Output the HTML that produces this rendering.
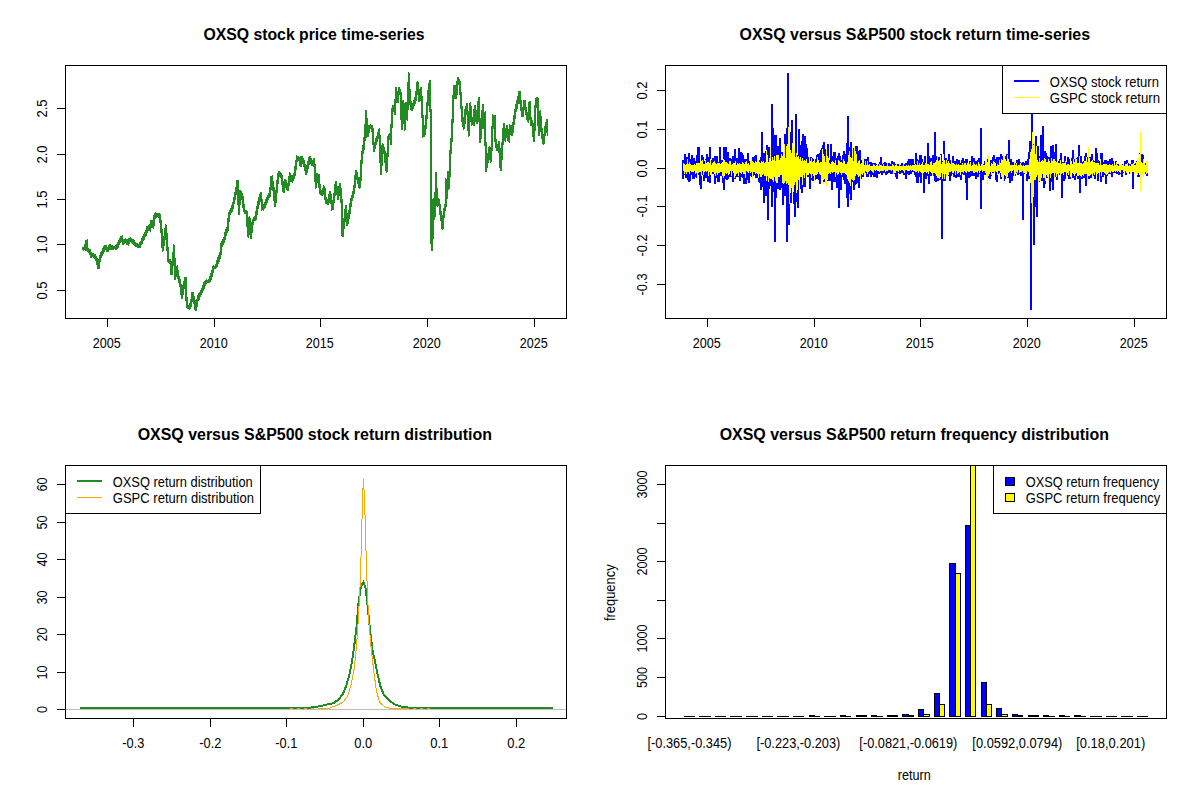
<!DOCTYPE html><html><head><meta charset="utf-8"><title>OXSQ</title><style>html,body{margin:0;padding:0;background:#fff}svg{display:block}</style></head><body>
<svg width="1200" height="800" viewBox="0 0 1200 800" shape-rendering="crispEdges" font-family='"Liberation Sans", sans-serif' fill="#000">
<rect width="1200" height="800" fill="#fff"/>
<text x="314" y="40" font-size="16" text-anchor="middle" textLength="221.2" lengthAdjust="spacingAndGlyphs" font-weight="bold">OXSQ stock price time-series</text>
<g fill="#228B22">
<rect x="82" y="247" width="1" height="3"/>
<rect x="83" y="247" width="1" height="4"/>
<rect x="84" y="244" width="1" height="6"/>
<rect x="85" y="240" width="1" height="11"/>
<rect x="86" y="240" width="1" height="11"/>
<rect x="87" y="239" width="1" height="13"/>
<rect x="88" y="248" width="1" height="5"/>
<rect x="89" y="249" width="1" height="6"/>
<rect x="90" y="249" width="1" height="9"/>
<rect x="91" y="252" width="1" height="6"/>
<rect x="92" y="253" width="1" height="4"/>
<rect x="93" y="253" width="1" height="5"/>
<rect x="94" y="254" width="1" height="5"/>
<rect x="95" y="254" width="1" height="7"/>
<rect x="96" y="256" width="1" height="9"/>
<rect x="97" y="258" width="1" height="11"/>
<rect x="98" y="259" width="1" height="10"/>
<rect x="99" y="255" width="1" height="14"/>
<rect x="100" y="252" width="1" height="10"/>
<rect x="101" y="251" width="1" height="7"/>
<rect x="102" y="248" width="1" height="8"/>
<rect x="103" y="246" width="1" height="8"/>
<rect x="104" y="245" width="1" height="7"/>
<rect x="105" y="245" width="1" height="5"/>
<rect x="106" y="245" width="1" height="7"/>
<rect x="107" y="247" width="1" height="5"/>
<rect x="108" y="245" width="1" height="7"/>
<rect x="109" y="244" width="1" height="6"/>
<rect x="110" y="244" width="1" height="6"/>
<rect x="111" y="245" width="1" height="5"/>
<rect x="112" y="245" width="1" height="5"/>
<rect x="113" y="246" width="1" height="4"/>
<rect x="114" y="246" width="1" height="3"/>
<rect x="115" y="245" width="1" height="5"/>
<rect x="116" y="244" width="1" height="6"/>
<rect x="117" y="242" width="1" height="7"/>
<rect x="118" y="240" width="1" height="8"/>
<rect x="119" y="238" width="1" height="7"/>
<rect x="120" y="236" width="1" height="7"/>
<rect x="121" y="236" width="1" height="6"/>
<rect x="122" y="235" width="1" height="10"/>
<rect x="123" y="239" width="1" height="6"/>
<rect x="124" y="239" width="1" height="5"/>
<rect x="125" y="238" width="1" height="5"/>
<rect x="126" y="239" width="1" height="6"/>
<rect x="127" y="239" width="1" height="6"/>
<rect x="128" y="238" width="1" height="8"/>
<rect x="129" y="238" width="1" height="6"/>
<rect x="130" y="237" width="1" height="5"/>
<rect x="131" y="238" width="1" height="5"/>
<rect x="132" y="239" width="1" height="5"/>
<rect x="133" y="239" width="1" height="6"/>
<rect x="134" y="240" width="1" height="6"/>
<rect x="135" y="242" width="1" height="5"/>
<rect x="136" y="243" width="1" height="4"/>
<rect x="137" y="243" width="1" height="5"/>
<rect x="138" y="244" width="1" height="4"/>
<rect x="139" y="242" width="1" height="6"/>
<rect x="140" y="241" width="1" height="7"/>
<rect x="141" y="238" width="1" height="7"/>
<rect x="142" y="236" width="1" height="8"/>
<rect x="143" y="234" width="1" height="7"/>
<rect x="144" y="232" width="1" height="8"/>
<rect x="145" y="230" width="1" height="7"/>
<rect x="146" y="226" width="1" height="10"/>
<rect x="147" y="226" width="1" height="7"/>
<rect x="148" y="225" width="1" height="6"/>
<rect x="149" y="224" width="1" height="7"/>
<rect x="150" y="220" width="1" height="12"/>
<rect x="151" y="220" width="1" height="8"/>
<rect x="152" y="220" width="1" height="8"/>
<rect x="153" y="215" width="1" height="14"/>
<rect x="154" y="213" width="1" height="13"/>
<rect x="155" y="212" width="1" height="7"/>
<rect x="156" y="213" width="1" height="5"/>
<rect x="157" y="213" width="1" height="4"/>
<rect x="158" y="213" width="1" height="5"/>
<rect x="159" y="213" width="1" height="10"/>
<rect x="160" y="214" width="1" height="19"/>
<rect x="161" y="220" width="1" height="28"/>
<rect x="162" y="229" width="1" height="23"/>
<rect x="163" y="236" width="1" height="15"/>
<rect x="164" y="228" width="1" height="18"/>
<rect x="165" y="224" width="1" height="16"/>
<rect x="166" y="225" width="1" height="26"/>
<rect x="167" y="233" width="1" height="29"/>
<rect x="168" y="247" width="1" height="16"/>
<rect x="169" y="259" width="1" height="5"/>
<rect x="170" y="259" width="1" height="16"/>
<rect x="171" y="261" width="1" height="14"/>
<rect x="172" y="252" width="1" height="23"/>
<rect x="173" y="244" width="1" height="22"/>
<rect x="174" y="245" width="1" height="35"/>
<rect x="175" y="258" width="1" height="22"/>
<rect x="176" y="266" width="1" height="11"/>
<rect x="177" y="265" width="1" height="14"/>
<rect x="178" y="270" width="1" height="13"/>
<rect x="179" y="276" width="1" height="11"/>
<rect x="180" y="279" width="1" height="16"/>
<rect x="181" y="284" width="1" height="15"/>
<rect x="182" y="285" width="1" height="14"/>
<rect x="183" y="281" width="1" height="14"/>
<rect x="184" y="277" width="1" height="12"/>
<rect x="185" y="277" width="1" height="24"/>
<rect x="186" y="277" width="1" height="31"/>
<rect x="187" y="297" width="1" height="12"/>
<rect x="188" y="305" width="1" height="4"/>
<rect x="189" y="303" width="1" height="7"/>
<rect x="190" y="299" width="1" height="10"/>
<rect x="191" y="292" width="1" height="15"/>
<rect x="192" y="292" width="1" height="10"/>
<rect x="193" y="292" width="1" height="12"/>
<rect x="194" y="296" width="1" height="14"/>
<rect x="195" y="300" width="1" height="11"/>
<rect x="196" y="299" width="1" height="12"/>
<rect x="197" y="295" width="1" height="12"/>
<rect x="198" y="293" width="1" height="8"/>
<rect x="199" y="292" width="1" height="8"/>
<rect x="200" y="290" width="1" height="7"/>
<rect x="201" y="288" width="1" height="7"/>
<rect x="202" y="285" width="1" height="8"/>
<rect x="203" y="282" width="1" height="9"/>
<rect x="204" y="281" width="1" height="8"/>
<rect x="205" y="280" width="1" height="6"/>
<rect x="206" y="279" width="1" height="5"/>
<rect x="207" y="280" width="1" height="3"/>
<rect x="208" y="279" width="1" height="4"/>
<rect x="209" y="276" width="1" height="7"/>
<rect x="210" y="273" width="1" height="9"/>
<rect x="211" y="270" width="1" height="10"/>
<rect x="212" y="266" width="1" height="11"/>
<rect x="213" y="265" width="1" height="8"/>
<rect x="214" y="266" width="1" height="3"/>
<rect x="215" y="264" width="1" height="5"/>
<rect x="216" y="260" width="1" height="8"/>
<rect x="217" y="257" width="1" height="10"/>
<rect x="218" y="255" width="1" height="9"/>
<rect x="219" y="252" width="1" height="10"/>
<rect x="220" y="243" width="1" height="16"/>
<rect x="221" y="241" width="1" height="14"/>
<rect x="222" y="239" width="1" height="8"/>
<rect x="223" y="237" width="1" height="8"/>
<rect x="224" y="232" width="1" height="11"/>
<rect x="225" y="229" width="1" height="11"/>
<rect x="226" y="227" width="1" height="9"/>
<rect x="227" y="218" width="1" height="15"/>
<rect x="228" y="212" width="1" height="19"/>
<rect x="229" y="210" width="1" height="12"/>
<rect x="230" y="208" width="1" height="7"/>
<rect x="231" y="205" width="1" height="8"/>
<rect x="232" y="202" width="1" height="10"/>
<rect x="233" y="197" width="1" height="12"/>
<rect x="234" y="192" width="1" height="12"/>
<rect x="235" y="187" width="1" height="13"/>
<rect x="236" y="180" width="1" height="15"/>
<rect x="237" y="180" width="1" height="25"/>
<rect x="238" y="180" width="1" height="35"/>
<rect x="239" y="190" width="1" height="25"/>
<rect x="240" y="190" width="1" height="15"/>
<rect x="241" y="191" width="1" height="9"/>
<rect x="242" y="193" width="1" height="15"/>
<rect x="243" y="196" width="1" height="16"/>
<rect x="244" y="204" width="1" height="10"/>
<rect x="245" y="210" width="1" height="4"/>
<rect x="246" y="210" width="1" height="17"/>
<rect x="247" y="211" width="1" height="26"/>
<rect x="248" y="217" width="1" height="21"/>
<rect x="249" y="216" width="1" height="19"/>
<rect x="250" y="218" width="1" height="21"/>
<rect x="251" y="222" width="1" height="17"/>
<rect x="252" y="219" width="1" height="14"/>
<rect x="253" y="217" width="1" height="8"/>
<rect x="254" y="216" width="1" height="5"/>
<rect x="255" y="211" width="1" height="10"/>
<rect x="256" y="206" width="1" height="14"/>
<rect x="257" y="201" width="1" height="14"/>
<rect x="258" y="197" width="1" height="12"/>
<rect x="259" y="194" width="1" height="11"/>
<rect x="260" y="192" width="1" height="10"/>
<rect x="261" y="192" width="1" height="19"/>
<rect x="262" y="199" width="1" height="11"/>
<rect x="263" y="204" width="1" height="7"/>
<rect x="264" y="202" width="1" height="7"/>
<rect x="265" y="199" width="1" height="9"/>
<rect x="266" y="197" width="1" height="8"/>
<rect x="267" y="195" width="1" height="8"/>
<rect x="268" y="193" width="1" height="7"/>
<rect x="269" y="187" width="1" height="11"/>
<rect x="270" y="176" width="1" height="21"/>
<rect x="271" y="176" width="1" height="14"/>
<rect x="272" y="175" width="1" height="16"/>
<rect x="273" y="181" width="1" height="20"/>
<rect x="274" y="187" width="1" height="20"/>
<rect x="275" y="190" width="1" height="17"/>
<rect x="276" y="180" width="1" height="23"/>
<rect x="277" y="173" width="1" height="20"/>
<rect x="278" y="171" width="1" height="13"/>
<rect x="279" y="171" width="1" height="6"/>
<rect x="280" y="172" width="1" height="6"/>
<rect x="281" y="173" width="1" height="12"/>
<rect x="282" y="175" width="1" height="17"/>
<rect x="283" y="181" width="1" height="12"/>
<rect x="284" y="179" width="1" height="14"/>
<rect x="285" y="179" width="1" height="9"/>
<rect x="286" y="180" width="1" height="10"/>
<rect x="287" y="183" width="1" height="8"/>
<rect x="288" y="176" width="1" height="15"/>
<rect x="289" y="172" width="1" height="14"/>
<rect x="290" y="173" width="1" height="9"/>
<rect x="291" y="175" width="1" height="7"/>
<rect x="292" y="175" width="1" height="8"/>
<rect x="293" y="173" width="1" height="8"/>
<rect x="294" y="166" width="1" height="13"/>
<rect x="295" y="160" width="1" height="16"/>
<rect x="296" y="155" width="1" height="15"/>
<rect x="297" y="156" width="1" height="6"/>
<rect x="298" y="156" width="1" height="5"/>
<rect x="299" y="157" width="1" height="9"/>
<rect x="300" y="156" width="1" height="11"/>
<rect x="301" y="156" width="1" height="11"/>
<rect x="302" y="156" width="1" height="8"/>
<rect x="303" y="158" width="1" height="9"/>
<rect x="304" y="160" width="1" height="11"/>
<rect x="305" y="164" width="1" height="11"/>
<rect x="306" y="165" width="1" height="10"/>
<rect x="307" y="161" width="1" height="12"/>
<rect x="308" y="157" width="1" height="12"/>
<rect x="309" y="156" width="1" height="9"/>
<rect x="310" y="156" width="1" height="8"/>
<rect x="311" y="158" width="1" height="8"/>
<rect x="312" y="160" width="1" height="6"/>
<rect x="313" y="158" width="1" height="9"/>
<rect x="314" y="158" width="1" height="24"/>
<rect x="315" y="164" width="1" height="25"/>
<rect x="316" y="173" width="1" height="15"/>
<rect x="317" y="173" width="1" height="10"/>
<rect x="318" y="174" width="1" height="14"/>
<rect x="319" y="174" width="1" height="20"/>
<rect x="320" y="184" width="1" height="11"/>
<rect x="321" y="190" width="1" height="6"/>
<rect x="322" y="188" width="1" height="8"/>
<rect x="323" y="185" width="1" height="10"/>
<rect x="324" y="186" width="1" height="14"/>
<rect x="325" y="188" width="1" height="16"/>
<rect x="326" y="197" width="1" height="7"/>
<rect x="327" y="199" width="1" height="6"/>
<rect x="328" y="194" width="1" height="11"/>
<rect x="329" y="191" width="1" height="12"/>
<rect x="330" y="191" width="1" height="13"/>
<rect x="331" y="194" width="1" height="17"/>
<rect x="332" y="200" width="1" height="10"/>
<rect x="333" y="193" width="1" height="17"/>
<rect x="334" y="184" width="1" height="19"/>
<rect x="335" y="181" width="1" height="15"/>
<rect x="336" y="181" width="1" height="14"/>
<rect x="337" y="186" width="1" height="14"/>
<rect x="338" y="186" width="1" height="14"/>
<rect x="339" y="183" width="1" height="13"/>
<rect x="340" y="183" width="1" height="20"/>
<rect x="341" y="188" width="1" height="48"/>
<rect x="342" y="199" width="1" height="38"/>
<rect x="343" y="218" width="1" height="19"/>
<rect x="344" y="209" width="1" height="20"/>
<rect x="345" y="205" width="1" height="17"/>
<rect x="346" y="205" width="1" height="21"/>
<rect x="347" y="213" width="1" height="13"/>
<rect x="348" y="210" width="1" height="14"/>
<rect x="349" y="203" width="1" height="16"/>
<rect x="350" y="198" width="1" height="16"/>
<rect x="351" y="195" width="1" height="12"/>
<rect x="352" y="191" width="1" height="10"/>
<rect x="353" y="185" width="1" height="13"/>
<rect x="354" y="175" width="1" height="19"/>
<rect x="355" y="170" width="1" height="18"/>
<rect x="356" y="170" width="1" height="10"/>
<rect x="357" y="172" width="1" height="12"/>
<rect x="358" y="177" width="1" height="11"/>
<rect x="359" y="177" width="1" height="12"/>
<rect x="360" y="160" width="1" height="28"/>
<rect x="361" y="151" width="1" height="30"/>
<rect x="362" y="145" width="1" height="19"/>
<rect x="363" y="137" width="1" height="17"/>
<rect x="364" y="124" width="1" height="26"/>
<rect x="365" y="110" width="1" height="31"/>
<rect x="366" y="110" width="1" height="28"/>
<rect x="367" y="118" width="1" height="19"/>
<rect x="368" y="125" width="1" height="12"/>
<rect x="369" y="125" width="1" height="8"/>
<rect x="370" y="124" width="1" height="5"/>
<rect x="371" y="125" width="1" height="7"/>
<rect x="372" y="125" width="1" height="20"/>
<rect x="373" y="128" width="1" height="24"/>
<rect x="374" y="142" width="1" height="10"/>
<rect x="375" y="138" width="1" height="11"/>
<rect x="376" y="136" width="1" height="9"/>
<rect x="377" y="132" width="1" height="10"/>
<rect x="378" y="129" width="1" height="10"/>
<rect x="379" y="128" width="1" height="35"/>
<rect x="380" y="135" width="1" height="40"/>
<rect x="381" y="145" width="1" height="30"/>
<rect x="382" y="143" width="1" height="23"/>
<rect x="383" y="144" width="1" height="10"/>
<rect x="384" y="147" width="1" height="16"/>
<rect x="385" y="151" width="1" height="20"/>
<rect x="386" y="153" width="1" height="20"/>
<rect x="387" y="136" width="1" height="36"/>
<rect x="388" y="134" width="1" height="23"/>
<rect x="389" y="133" width="1" height="7"/>
<rect x="390" y="124" width="1" height="21"/>
<rect x="391" y="108" width="1" height="37"/>
<rect x="392" y="105" width="1" height="23"/>
<rect x="393" y="105" width="1" height="7"/>
<rect x="394" y="99" width="1" height="16"/>
<rect x="395" y="87" width="1" height="28"/>
<rect x="396" y="87" width="1" height="16"/>
<rect x="397" y="91" width="1" height="12"/>
<rect x="398" y="87" width="1" height="16"/>
<rect x="399" y="87" width="1" height="8"/>
<rect x="400" y="89" width="1" height="31"/>
<rect x="401" y="92" width="1" height="38"/>
<rect x="402" y="100" width="1" height="30"/>
<rect x="403" y="100" width="1" height="24"/>
<rect x="404" y="103" width="1" height="28"/>
<rect x="405" y="102" width="1" height="28"/>
<rect x="406" y="102" width="1" height="18"/>
<rect x="407" y="82" width="1" height="39"/>
<rect x="408" y="72" width="1" height="38"/>
<rect x="409" y="73" width="1" height="32"/>
<rect x="410" y="89" width="1" height="21"/>
<rect x="411" y="101" width="1" height="10"/>
<rect x="412" y="103" width="1" height="8"/>
<rect x="413" y="100" width="1" height="9"/>
<rect x="414" y="97" width="1" height="9"/>
<rect x="415" y="91" width="1" height="13"/>
<rect x="416" y="82" width="1" height="19"/>
<rect x="417" y="81" width="1" height="14"/>
<rect x="418" y="82" width="1" height="20"/>
<rect x="419" y="89" width="1" height="13"/>
<rect x="420" y="87" width="1" height="14"/>
<rect x="421" y="87" width="1" height="31"/>
<rect x="422" y="96" width="1" height="42"/>
<rect x="423" y="115" width="1" height="22"/>
<rect x="424" y="125" width="1" height="12"/>
<rect x="425" y="115" width="1" height="20"/>
<rect x="426" y="102" width="1" height="27"/>
<rect x="427" y="90" width="1" height="29"/>
<rect x="428" y="83" width="1" height="23"/>
<rect x="429" y="80" width="1" height="32"/>
<rect x="430" y="80" width="1" height="164"/>
<rect x="431" y="109" width="1" height="142"/>
<rect x="432" y="199" width="1" height="52"/>
<rect x="433" y="198" width="1" height="41"/>
<rect x="434" y="192" width="1" height="28"/>
<rect x="435" y="172" width="1" height="45"/>
<rect x="436" y="172" width="1" height="34"/>
<rect x="437" y="188" width="1" height="19"/>
<rect x="438" y="198" width="1" height="8"/>
<rect x="439" y="199" width="1" height="16"/>
<rect x="440" y="204" width="1" height="17"/>
<rect x="441" y="211" width="1" height="18"/>
<rect x="442" y="215" width="1" height="15"/>
<rect x="443" y="208" width="1" height="21"/>
<rect x="444" y="204" width="1" height="14"/>
<rect x="445" y="178" width="1" height="33"/>
<rect x="446" y="179" width="1" height="28"/>
<rect x="447" y="171" width="1" height="28"/>
<rect x="448" y="171" width="1" height="19"/>
<rect x="449" y="150" width="1" height="39"/>
<rect x="450" y="138" width="1" height="39"/>
<rect x="451" y="119" width="1" height="35"/>
<rect x="452" y="95" width="1" height="47"/>
<rect x="453" y="85" width="1" height="38"/>
<rect x="454" y="85" width="1" height="14"/>
<rect x="455" y="85" width="1" height="14"/>
<rect x="456" y="81" width="1" height="18"/>
<rect x="457" y="77" width="1" height="18"/>
<rect x="458" y="77" width="1" height="8"/>
<rect x="459" y="79" width="1" height="16"/>
<rect x="460" y="81" width="1" height="28"/>
<rect x="461" y="92" width="1" height="30"/>
<rect x="462" y="106" width="1" height="21"/>
<rect x="463" y="117" width="1" height="13"/>
<rect x="464" y="109" width="1" height="20"/>
<rect x="465" y="106" width="1" height="18"/>
<rect x="466" y="103" width="1" height="12"/>
<rect x="467" y="103" width="1" height="28"/>
<rect x="468" y="111" width="1" height="26"/>
<rect x="469" y="103" width="1" height="33"/>
<rect x="470" y="102" width="1" height="20"/>
<rect x="471" y="106" width="1" height="20"/>
<rect x="472" y="117" width="1" height="8"/>
<rect x="473" y="109" width="1" height="17"/>
<rect x="474" y="105" width="1" height="21"/>
<rect x="475" y="105" width="1" height="17"/>
<rect x="476" y="110" width="1" height="14"/>
<rect x="477" y="101" width="1" height="23"/>
<rect x="478" y="97" width="1" height="25"/>
<rect x="479" y="97" width="1" height="46"/>
<rect x="480" y="118" width="1" height="25"/>
<rect x="481" y="110" width="1" height="29"/>
<rect x="482" y="104" width="1" height="25"/>
<rect x="483" y="104" width="1" height="25"/>
<rect x="484" y="112" width="1" height="34"/>
<rect x="485" y="111" width="1" height="61"/>
<rect x="486" y="142" width="1" height="30"/>
<rect x="487" y="153" width="1" height="15"/>
<rect x="488" y="147" width="1" height="16"/>
<rect x="489" y="146" width="1" height="14"/>
<rect x="490" y="147" width="1" height="16"/>
<rect x="491" y="126" width="1" height="36"/>
<rect x="492" y="114" width="1" height="37"/>
<rect x="493" y="115" width="1" height="14"/>
<rect x="494" y="115" width="1" height="27"/>
<rect x="495" y="115" width="1" height="33"/>
<rect x="496" y="139" width="1" height="12"/>
<rect x="497" y="144" width="1" height="7"/>
<rect x="498" y="141" width="1" height="12"/>
<rect x="499" y="141" width="1" height="27"/>
<rect x="500" y="148" width="1" height="23"/>
<rect x="501" y="142" width="1" height="29"/>
<rect x="502" y="128" width="1" height="32"/>
<rect x="503" y="123" width="1" height="22"/>
<rect x="504" y="123" width="1" height="18"/>
<rect x="505" y="128" width="1" height="14"/>
<rect x="506" y="125" width="1" height="13"/>
<rect x="507" y="125" width="1" height="16"/>
<rect x="508" y="129" width="1" height="13"/>
<rect x="509" y="124" width="1" height="19"/>
<rect x="510" y="125" width="1" height="10"/>
<rect x="511" y="125" width="1" height="11"/>
<rect x="512" y="122" width="1" height="14"/>
<rect x="513" y="115" width="1" height="18"/>
<rect x="514" y="109" width="1" height="16"/>
<rect x="515" y="104" width="1" height="15"/>
<rect x="516" y="100" width="1" height="12"/>
<rect x="517" y="96" width="1" height="13"/>
<rect x="518" y="91" width="1" height="13"/>
<rect x="519" y="91" width="1" height="13"/>
<rect x="520" y="91" width="1" height="20"/>
<rect x="521" y="100" width="1" height="17"/>
<rect x="522" y="107" width="1" height="10"/>
<rect x="523" y="100" width="1" height="17"/>
<rect x="524" y="100" width="1" height="10"/>
<rect x="525" y="100" width="1" height="15"/>
<rect x="526" y="107" width="1" height="13"/>
<rect x="527" y="112" width="1" height="10"/>
<rect x="528" y="102" width="1" height="21"/>
<rect x="529" y="101" width="1" height="19"/>
<rect x="530" y="101" width="1" height="25"/>
<rect x="531" y="117" width="1" height="9"/>
<rect x="532" y="120" width="1" height="17"/>
<rect x="533" y="123" width="1" height="19"/>
<rect x="534" y="105" width="1" height="37"/>
<rect x="535" y="98" width="1" height="33"/>
<rect x="536" y="97" width="1" height="11"/>
<rect x="537" y="97" width="1" height="29"/>
<rect x="538" y="98" width="1" height="38"/>
<rect x="539" y="111" width="1" height="25"/>
<rect x="540" y="110" width="1" height="22"/>
<rect x="541" y="116" width="1" height="23"/>
<rect x="542" y="128" width="1" height="16"/>
<rect x="543" y="134" width="1" height="11"/>
<rect x="544" y="126" width="1" height="18"/>
<rect x="545" y="122" width="1" height="14"/>
<rect x="546" y="119" width="1" height="14"/>
<rect x="547" y="119" width="1" height="17"/>
</g>
<rect x="65.5" y="65.5" width="501" height="253" fill="none" stroke="#000" stroke-width="1"/>
<rect x="107" y="318" width="1" height="9" fill="#000"/>
<text x="106.7" y="348" font-size="13.8" text-anchor="middle" textLength="28" lengthAdjust="spacingAndGlyphs">2005</text>
<rect x="214" y="318" width="1" height="9" fill="#000"/>
<text x="213.7" y="348" font-size="13.8" text-anchor="middle" textLength="28" lengthAdjust="spacingAndGlyphs">2010</text>
<rect x="320" y="318" width="1" height="9" fill="#000"/>
<text x="319.7" y="348" font-size="13.8" text-anchor="middle" textLength="28" lengthAdjust="spacingAndGlyphs">2015</text>
<rect x="427" y="318" width="1" height="9" fill="#000"/>
<text x="426.7" y="348" font-size="13.8" text-anchor="middle" textLength="28" lengthAdjust="spacingAndGlyphs">2020</text>
<rect x="534" y="318" width="1" height="9" fill="#000"/>
<text x="533.7" y="348" font-size="13.8" text-anchor="middle" textLength="28" lengthAdjust="spacingAndGlyphs">2025</text>
<rect x="57" y="290" width="9" height="1" fill="#000"/>
<text x="47" y="290.5" font-size="13.8" text-anchor="middle" textLength="18" lengthAdjust="spacingAndGlyphs" transform="rotate(-90 47 290.5)">0.5</text>
<rect x="57" y="244" width="9" height="1" fill="#000"/>
<text x="47" y="244.5" font-size="13.8" text-anchor="middle" textLength="18" lengthAdjust="spacingAndGlyphs" transform="rotate(-90 47 244.5)">1.0</text>
<rect x="57" y="199" width="9" height="1" fill="#000"/>
<text x="47" y="199.5" font-size="13.8" text-anchor="middle" textLength="18" lengthAdjust="spacingAndGlyphs" transform="rotate(-90 47 199.5)">1.5</text>
<rect x="57" y="154" width="9" height="1" fill="#000"/>
<text x="47" y="154.5" font-size="13.8" text-anchor="middle" textLength="18" lengthAdjust="spacingAndGlyphs" transform="rotate(-90 47 154.5)">2.0</text>
<rect x="57" y="108" width="9" height="1" fill="#000"/>
<text x="47" y="108.5" font-size="13.8" text-anchor="middle" textLength="18" lengthAdjust="spacingAndGlyphs" transform="rotate(-90 47 108.5)">2.5</text>
<text x="914.85" y="40" font-size="16" text-anchor="middle" textLength="350.5" lengthAdjust="spacingAndGlyphs" font-weight="bold">OXSQ versus S&amp;P500 stock return time-series</text>
<g fill="#0000FF">
<rect x="682" y="159.9" width="2" height="18.9"/>
<rect x="683" y="162.8" width="2" height="12.3"/>
<rect x="684" y="154.4" width="2" height="20.9"/>
<rect x="685" y="156.9" width="2" height="21.1"/>
<rect x="686" y="161.2" width="2" height="16.0"/>
<rect x="687" y="157.1" width="2" height="23.1"/>
<rect x="688" y="153.2" width="2" height="29.1"/>
<rect x="689" y="159.1" width="2" height="22.2"/>
<rect x="690" y="160.8" width="2" height="14.0"/>
<rect x="691" y="155.1" width="2" height="20.2"/>
<rect x="692" y="161.5" width="2" height="17.0"/>
<rect x="693" y="158.3" width="2" height="20.7"/>
<rect x="694" y="160.7" width="2" height="15.9"/>
<rect x="695" y="160.8" width="2" height="15.8"/>
<rect x="696" y="155.4" width="2" height="22.4"/>
<rect x="697" y="147.1" width="2" height="28.3"/>
<rect x="698" y="147.1" width="2" height="27.3"/>
<rect x="699" y="162.7" width="2" height="22.7"/>
<rect x="700" y="160.8" width="2" height="28.2"/>
<rect x="701" y="154.6" width="2" height="18.7"/>
<rect x="702" y="156.5" width="2" height="18.6"/>
<rect x="703" y="161.5" width="2" height="19.4"/>
<rect x="704" y="161.0" width="2" height="14.9"/>
<rect x="705" y="158.5" width="2" height="19.3"/>
<rect x="706" y="154.3" width="2" height="21.1"/>
<rect x="707" y="160.7" width="2" height="21.6"/>
<rect x="708" y="156.9" width="2" height="21.1"/>
<rect x="709" y="147.1" width="2" height="35.7"/>
<rect x="710" y="162.2" width="2" height="12.2"/>
<rect x="711" y="159.8" width="2" height="14.5"/>
<rect x="712" y="157.9" width="2" height="15.9"/>
<rect x="713" y="160.2" width="2" height="13.0"/>
<rect x="714" y="156.0" width="2" height="27.6"/>
<rect x="715" y="160.2" width="2" height="17.7"/>
<rect x="716" y="155.7" width="2" height="22.0"/>
<rect x="717" y="161.9" width="2" height="20.5"/>
<rect x="718" y="163.2" width="2" height="19.2"/>
<rect x="719" y="147.1" width="2" height="28.8"/>
<rect x="720" y="160.4" width="2" height="13.0"/>
<rect x="721" y="162.3" width="2" height="13.8"/>
<rect x="722" y="159.6" width="2" height="23.5"/>
<rect x="723" y="147.1" width="2" height="42.7"/>
<rect x="724" y="161.8" width="2" height="17.0"/>
<rect x="725" y="147.1" width="2" height="30.6"/>
<rect x="726" y="161.8" width="2" height="18.0"/>
<rect x="727" y="152.3" width="2" height="26.4"/>
<rect x="728" y="158.1" width="2" height="16.2"/>
<rect x="729" y="158.3" width="2" height="19.0"/>
<rect x="730" y="159.0" width="2" height="14.9"/>
<rect x="731" y="158.7" width="2" height="18.5"/>
<rect x="732" y="155.5" width="2" height="26.9"/>
<rect x="733" y="160.1" width="2" height="15.5"/>
<rect x="734" y="148.8" width="2" height="30.6"/>
<rect x="735" y="160.0" width="2" height="17.4"/>
<rect x="736" y="157.9" width="2" height="17.4"/>
<rect x="737" y="160.6" width="2" height="15.9"/>
<rect x="738" y="148.3" width="2" height="28.2"/>
<rect x="739" y="158.5" width="2" height="22.9"/>
<rect x="740" y="151.7" width="2" height="21.2"/>
<rect x="741" y="153.1" width="2" height="23.9"/>
<rect x="742" y="154.9" width="2" height="23.2"/>
<rect x="743" y="160.8" width="2" height="23.5"/>
<rect x="744" y="159.3" width="2" height="16.6"/>
<rect x="745" y="158.5" width="2" height="25.2"/>
<rect x="746" y="158.6" width="2" height="16.3"/>
<rect x="747" y="152.9" width="2" height="26.7"/>
<rect x="748" y="162.8" width="2" height="19.7"/>
<rect x="749" y="161.4" width="2" height="13.5"/>
<rect x="750" y="162.9" width="2" height="13.2"/>
<rect x="751" y="159.5" width="2" height="17.2"/>
<rect x="752" y="157.4" width="2" height="18.5"/>
<rect x="753" y="160.2" width="2" height="12.6"/>
<rect x="754" y="155.6" width="2" height="19.4"/>
<rect x="755" y="154.6" width="2" height="23.8"/>
<rect x="756" y="157.7" width="2" height="20.0"/>
<rect x="757" y="161.5" width="2" height="14.1"/>
<rect x="758" y="162.3" width="2" height="19.6"/>
<rect x="759" y="160.0" width="2" height="22.5"/>
<rect x="760" y="156.7" width="2" height="33.1"/>
<rect x="761" y="131.6" width="2" height="49.8"/>
<rect x="762" y="154.7" width="2" height="32.0"/>
<rect x="763" y="152.9" width="2" height="49.9"/>
<rect x="764" y="156.6" width="2" height="31.5"/>
<rect x="765" y="151.4" width="2" height="44.8"/>
<rect x="766" y="145.2" width="2" height="34.1"/>
<rect x="767" y="149.5" width="2" height="70.6"/>
<rect x="768" y="146.8" width="2" height="42.1"/>
<rect x="769" y="151.1" width="2" height="35.0"/>
<rect x="770" y="150.3" width="2" height="29.1"/>
<rect x="771" y="104.0" width="2" height="102.8"/>
<rect x="772" y="128.1" width="2" height="55.9"/>
<rect x="773" y="141.1" width="2" height="50.7"/>
<rect x="774" y="135.1" width="2" height="106.8"/>
<rect x="775" y="134.8" width="2" height="63.0"/>
<rect x="776" y="156.2" width="2" height="29.1"/>
<rect x="777" y="146.3" width="2" height="42.9"/>
<rect x="778" y="147.8" width="2" height="30.8"/>
<rect x="779" y="137.8" width="2" height="51.8"/>
<rect x="780" y="151.6" width="2" height="36.0"/>
<rect x="781" y="151.5" width="2" height="27.1"/>
<rect x="782" y="153.2" width="2" height="52.1"/>
<rect x="783" y="153.5" width="2" height="25.9"/>
<rect x="784" y="134.3" width="2" height="61.9"/>
<rect x="785" y="144.4" width="2" height="51.0"/>
<rect x="786" y="128.1" width="2" height="113.8"/>
<rect x="787" y="72.9" width="2" height="121.7"/>
<rect x="788" y="157.5" width="2" height="67.3"/>
<rect x="789" y="145.1" width="2" height="37.5"/>
<rect x="790" y="132.4" width="2" height="70.9"/>
<rect x="791" y="120.3" width="2" height="66.6"/>
<rect x="792" y="156.5" width="2" height="21.0"/>
<rect x="793" y="159.0" width="2" height="44.5"/>
<rect x="794" y="154.5" width="2" height="62.6"/>
<rect x="795" y="114.1" width="2" height="84.4"/>
<rect x="796" y="156.2" width="2" height="45.3"/>
<rect x="797" y="154.9" width="2" height="53.2"/>
<rect x="798" y="129.3" width="2" height="54.4"/>
<rect x="799" y="158.2" width="2" height="22.6"/>
<rect x="800" y="145.3" width="2" height="43.5"/>
<rect x="801" y="140.7" width="2" height="52.6"/>
<rect x="802" y="134.1" width="2" height="52.6"/>
<rect x="803" y="138.5" width="2" height="46.0"/>
<rect x="804" y="135.9" width="2" height="51.2"/>
<rect x="805" y="143.5" width="2" height="31.1"/>
<rect x="806" y="147.7" width="2" height="26.6"/>
<rect x="807" y="157.2" width="2" height="20.1"/>
<rect x="808" y="157.9" width="2" height="16.1"/>
<rect x="809" y="157.7" width="2" height="31.6"/>
<rect x="810" y="157.2" width="2" height="22.5"/>
<rect x="811" y="158.4" width="2" height="19.9"/>
<rect x="812" y="158.6" width="2" height="22.5"/>
<rect x="813" y="162.6" width="2" height="15.0"/>
<rect x="814" y="162.6" width="2" height="17.3"/>
<rect x="815" y="159.4" width="2" height="19.6"/>
<rect x="816" y="154.7" width="2" height="23.8"/>
<rect x="817" y="153.8" width="2" height="25.4"/>
<rect x="818" y="159.0" width="2" height="20.9"/>
<rect x="819" y="152.9" width="2" height="31.4"/>
<rect x="820" y="149.5" width="2" height="27.8"/>
<rect x="821" y="148.0" width="2" height="27.0"/>
<rect x="822" y="144.8" width="2" height="37.0"/>
<rect x="823" y="142.1" width="2" height="39.5"/>
<rect x="824" y="159.6" width="2" height="17.2"/>
<rect x="825" y="149.3" width="2" height="25.0"/>
<rect x="826" y="157.9" width="2" height="22.6"/>
<rect x="827" y="144.1" width="2" height="37.1"/>
<rect x="828" y="161.5" width="2" height="17.4"/>
<rect x="829" y="159.8" width="2" height="21.1"/>
<rect x="830" y="144.1" width="2" height="32.0"/>
<rect x="831" y="159.9" width="2" height="30.3"/>
<rect x="832" y="156.4" width="2" height="21.4"/>
<rect x="833" y="151.7" width="2" height="30.2"/>
<rect x="834" y="152.0" width="2" height="30.2"/>
<rect x="835" y="157.6" width="2" height="18.7"/>
<rect x="836" y="158.7" width="2" height="28.8"/>
<rect x="837" y="156.0" width="2" height="23.2"/>
<rect x="838" y="152.6" width="2" height="55.1"/>
<rect x="839" y="155.8" width="2" height="19.6"/>
<rect x="840" y="159.8" width="2" height="30.5"/>
<rect x="841" y="160.9" width="2" height="16.1"/>
<rect x="842" y="154.9" width="2" height="20.1"/>
<rect x="843" y="151.1" width="2" height="29.2"/>
<rect x="844" y="160.3" width="2" height="23.5"/>
<rect x="845" y="153.9" width="2" height="25.9"/>
<rect x="846" y="142.7" width="2" height="55.6"/>
<rect x="847" y="115.7" width="2" height="90.9"/>
<rect x="848" y="153.3" width="2" height="38.8"/>
<rect x="849" y="146.6" width="2" height="47.0"/>
<rect x="850" y="141.9" width="2" height="57.7"/>
<rect x="851" y="156.5" width="2" height="24.5"/>
<rect x="852" y="149.4" width="2" height="32.8"/>
<rect x="853" y="147.7" width="2" height="41.8"/>
<rect x="854" y="152.9" width="2" height="32.0"/>
<rect x="855" y="145.6" width="2" height="38.3"/>
<rect x="856" y="145.8" width="2" height="34.7"/>
<rect x="857" y="150.9" width="2" height="32.3"/>
<rect x="858" y="152.5" width="2" height="35.1"/>
<rect x="859" y="150.2" width="2" height="25.6"/>
<rect x="860" y="160.2" width="2" height="18.9"/>
<rect x="861" y="159.8" width="2" height="13.6"/>
<rect x="862" y="163.3" width="2" height="13.7"/>
<rect x="863" y="162.2" width="2" height="13.2"/>
<rect x="864" y="159.1" width="2" height="13.4"/>
<rect x="865" y="163.5" width="2" height="8.4"/>
<rect x="866" y="158.7" width="2" height="18.2"/>
<rect x="867" y="157.2" width="2" height="19.4"/>
<rect x="868" y="162.0" width="2" height="11.1"/>
<rect x="869" y="163.4" width="2" height="10.1"/>
<rect x="870" y="162.4" width="2" height="14.1"/>
<rect x="871" y="162.6" width="2" height="12.1"/>
<rect x="872" y="164.7" width="2" height="7.9"/>
<rect x="873" y="163.4" width="2" height="13.9"/>
<rect x="874" y="162.8" width="2" height="13.9"/>
<rect x="875" y="164.1" width="2" height="10.7"/>
<rect x="876" y="164.7" width="2" height="12.9"/>
<rect x="877" y="164.8" width="2" height="9.0"/>
<rect x="878" y="164.4" width="2" height="9.4"/>
<rect x="879" y="161.5" width="2" height="10.4"/>
<rect x="880" y="156.6" width="2" height="16.1"/>
<rect x="881" y="164.3" width="2" height="10.2"/>
<rect x="882" y="164.0" width="2" height="8.7"/>
<rect x="883" y="162.7" width="2" height="10.2"/>
<rect x="884" y="161.9" width="2" height="8.8"/>
<rect x="885" y="164.1" width="2" height="10.7"/>
<rect x="886" y="163.2" width="2" height="11.2"/>
<rect x="887" y="162.5" width="2" height="10.9"/>
<rect x="888" y="162.6" width="2" height="10.2"/>
<rect x="889" y="163.9" width="2" height="8.5"/>
<rect x="890" y="164.6" width="2" height="9.6"/>
<rect x="891" y="160.7" width="2" height="13.1"/>
<rect x="892" y="164.1" width="2" height="7.1"/>
<rect x="893" y="161.9" width="2" height="10.5"/>
<rect x="894" y="164.8" width="2" height="9.4"/>
<rect x="895" y="163.9" width="2" height="13.0"/>
<rect x="896" y="163.6" width="2" height="15.1"/>
<rect x="897" y="165.1" width="2" height="7.6"/>
<rect x="898" y="164.2" width="2" height="8.9"/>
<rect x="899" y="165.5" width="2" height="8.3"/>
<rect x="900" y="164.8" width="2" height="7.7"/>
<rect x="901" y="163.4" width="2" height="8.6"/>
<rect x="902" y="163.5" width="2" height="9.7"/>
<rect x="903" y="164.1" width="2" height="10.9"/>
<rect x="904" y="163.9" width="2" height="11.1"/>
<rect x="905" y="162.6" width="2" height="16.2"/>
<rect x="906" y="162.9" width="2" height="10.9"/>
<rect x="907" y="161.2" width="2" height="10.0"/>
<rect x="908" y="158.5" width="2" height="16.5"/>
<rect x="909" y="164.3" width="2" height="7.6"/>
<rect x="910" y="159.1" width="2" height="14.6"/>
<rect x="911" y="164.3" width="2" height="8.1"/>
<rect x="912" y="159.2" width="2" height="12.8"/>
<rect x="913" y="164.6" width="2" height="6.6"/>
<rect x="914" y="163.5" width="2" height="11.7"/>
<rect x="915" y="153.1" width="2" height="23.8"/>
<rect x="916" y="159.0" width="2" height="23.9"/>
<rect x="917" y="163.7" width="2" height="19.3"/>
<rect x="918" y="160.3" width="2" height="16.3"/>
<rect x="919" y="155.2" width="2" height="17.2"/>
<rect x="920" y="155.1" width="2" height="27.7"/>
<rect x="921" y="159.1" width="2" height="16.1"/>
<rect x="922" y="163.5" width="2" height="12.5"/>
<rect x="923" y="161.6" width="2" height="31.0"/>
<rect x="924" y="156.2" width="2" height="20.9"/>
<rect x="925" y="164.0" width="2" height="14.7"/>
<rect x="926" y="163.4" width="2" height="12.0"/>
<rect x="927" y="142.9" width="2" height="33.4"/>
<rect x="928" y="155.8" width="2" height="28.0"/>
<rect x="929" y="162.9" width="2" height="9.3"/>
<rect x="930" y="158.3" width="2" height="17.2"/>
<rect x="931" y="158.8" width="2" height="16.8"/>
<rect x="932" y="154.7" width="2" height="18.9"/>
<rect x="933" y="162.6" width="2" height="13.1"/>
<rect x="934" y="131.6" width="2" height="49.3"/>
<rect x="935" y="156.4" width="2" height="25.7"/>
<rect x="936" y="157.6" width="2" height="22.4"/>
<rect x="937" y="159.1" width="2" height="21.5"/>
<rect x="938" y="156.6" width="2" height="16.4"/>
<rect x="939" y="161.2" width="2" height="19.0"/>
<rect x="940" y="154.2" width="2" height="19.4"/>
<rect x="941" y="161.0" width="2" height="77.8"/>
<rect x="942" y="162.4" width="2" height="18.9"/>
<rect x="943" y="140.9" width="2" height="31.8"/>
<rect x="944" y="162.3" width="2" height="18.3"/>
<rect x="945" y="157.6" width="2" height="15.0"/>
<rect x="946" y="159.6" width="2" height="13.1"/>
<rect x="947" y="163.6" width="2" height="9.0"/>
<rect x="948" y="153.9" width="2" height="21.6"/>
<rect x="949" y="160.4" width="2" height="20.9"/>
<rect x="950" y="160.7" width="2" height="15.2"/>
<rect x="951" y="161.0" width="2" height="13.3"/>
<rect x="952" y="155.5" width="2" height="17.1"/>
<rect x="953" y="160.7" width="2" height="15.8"/>
<rect x="954" y="161.6" width="2" height="13.7"/>
<rect x="955" y="160.8" width="2" height="16.7"/>
<rect x="956" y="159.0" width="2" height="14.1"/>
<rect x="957" y="161.4" width="2" height="15.7"/>
<rect x="958" y="159.5" width="2" height="15.7"/>
<rect x="959" y="163.9" width="2" height="12.9"/>
<rect x="960" y="163.3" width="2" height="16.9"/>
<rect x="961" y="159.5" width="2" height="14.4"/>
<rect x="962" y="158.0" width="2" height="15.4"/>
<rect x="963" y="160.9" width="2" height="13.8"/>
<rect x="964" y="161.7" width="2" height="13.6"/>
<rect x="965" y="158.8" width="2" height="24.5"/>
<rect x="966" y="158.8" width="2" height="40.7"/>
<rect x="967" y="162.6" width="2" height="11.3"/>
<rect x="968" y="163.8" width="2" height="14.1"/>
<rect x="969" y="160.5" width="2" height="16.6"/>
<rect x="970" y="160.9" width="2" height="14.6"/>
<rect x="971" y="156.4" width="2" height="15.9"/>
<rect x="972" y="160.5" width="2" height="15.1"/>
<rect x="973" y="158.0" width="2" height="15.8"/>
<rect x="974" y="162.4" width="2" height="13.8"/>
<rect x="975" y="160.9" width="2" height="17.9"/>
<rect x="976" y="162.7" width="2" height="9.8"/>
<rect x="977" y="160.2" width="2" height="16.9"/>
<rect x="978" y="158.3" width="2" height="16.1"/>
<rect x="979" y="160.4" width="2" height="13.2"/>
<rect x="980" y="127.7" width="2" height="81.2"/>
<rect x="981" y="164.7" width="2" height="7.0"/>
<rect x="982" y="164.7" width="2" height="14.8"/>
<rect x="983" y="164.1" width="2" height="10.9"/>
<rect x="984" y="161.2" width="2" height="13.4"/>
<rect x="985" y="163.3" width="2" height="8.7"/>
<rect x="986" y="158.8" width="2" height="17.3"/>
<rect x="987" y="158.5" width="2" height="19.8"/>
<rect x="988" y="164.7" width="2" height="11.3"/>
<rect x="989" y="161.5" width="2" height="17.7"/>
<rect x="990" y="159.8" width="2" height="15.9"/>
<rect x="991" y="164.7" width="2" height="8.7"/>
<rect x="992" y="157.4" width="2" height="15.4"/>
<rect x="993" y="154.9" width="2" height="18.2"/>
<rect x="994" y="162.3" width="2" height="9.2"/>
<rect x="995" y="159.4" width="2" height="21.0"/>
<rect x="996" y="156.8" width="2" height="25.4"/>
<rect x="997" y="159.2" width="2" height="14.6"/>
<rect x="998" y="156.6" width="2" height="14.8"/>
<rect x="999" y="164.8" width="2" height="8.3"/>
<rect x="1000" y="153.5" width="2" height="25.5"/>
<rect x="1001" y="163.0" width="2" height="15.3"/>
<rect x="1002" y="155.8" width="2" height="22.2"/>
<rect x="1003" y="160.5" width="2" height="20.2"/>
<rect x="1004" y="155.5" width="2" height="23.7"/>
<rect x="1005" y="161.7" width="2" height="13.5"/>
<rect x="1006" y="154.3" width="2" height="20.8"/>
<rect x="1007" y="155.9" width="2" height="22.0"/>
<rect x="1008" y="139.7" width="2" height="37.9"/>
<rect x="1009" y="163.9" width="2" height="18.8"/>
<rect x="1010" y="158.5" width="2" height="19.3"/>
<rect x="1011" y="162.1" width="2" height="18.6"/>
<rect x="1012" y="162.3" width="2" height="13.4"/>
<rect x="1013" y="165.2" width="2" height="11.1"/>
<rect x="1014" y="165.2" width="2" height="11.2"/>
<rect x="1015" y="163.4" width="2" height="9.3"/>
<rect x="1016" y="159.9" width="2" height="12.2"/>
<rect x="1017" y="164.1" width="2" height="10.6"/>
<rect x="1018" y="158.8" width="2" height="12.2"/>
<rect x="1019" y="161.8" width="2" height="12.2"/>
<rect x="1020" y="162.9" width="2" height="12.7"/>
<rect x="1021" y="165.2" width="2" height="8.7"/>
<rect x="1022" y="161.5" width="2" height="58.3"/>
<rect x="1023" y="163.7" width="2" height="7.4"/>
<rect x="1024" y="162.9" width="2" height="11.5"/>
<rect x="1025" y="160.6" width="2" height="11.0"/>
<rect x="1026" y="164.5" width="2" height="16.2"/>
<rect x="1027" y="158.9" width="2" height="12.1"/>
<rect x="1028" y="151.8" width="2" height="27.4"/>
<rect x="1029" y="141.0" width="2" height="37.3"/>
<rect x="1030" y="155.4" width="2" height="154.5"/>
<rect x="1031" y="113.7" width="2" height="65.0"/>
<rect x="1032" y="143.5" width="2" height="43.0"/>
<rect x="1033" y="151.6" width="2" height="93.4"/>
<rect x="1034" y="146.2" width="2" height="46.6"/>
<rect x="1035" y="135.9" width="2" height="70.8"/>
<rect x="1036" y="152.9" width="2" height="63.7"/>
<rect x="1037" y="145.6" width="2" height="35.4"/>
<rect x="1038" y="155.9" width="2" height="26.5"/>
<rect x="1039" y="159.3" width="2" height="20.8"/>
<rect x="1040" y="135.0" width="2" height="45.8"/>
<rect x="1041" y="149.4" width="2" height="31.4"/>
<rect x="1042" y="125.8" width="2" height="52.7"/>
<rect x="1043" y="153.6" width="2" height="33.9"/>
<rect x="1044" y="151.1" width="2" height="32.8"/>
<rect x="1045" y="152.8" width="2" height="24.9"/>
<rect x="1046" y="156.1" width="2" height="17.9"/>
<rect x="1047" y="159.3" width="2" height="19.0"/>
<rect x="1048" y="157.1" width="2" height="21.5"/>
<rect x="1049" y="158.6" width="2" height="32.7"/>
<rect x="1050" y="145.8" width="2" height="31.3"/>
<rect x="1051" y="148.3" width="2" height="33.3"/>
<rect x="1052" y="145.2" width="2" height="44.8"/>
<rect x="1053" y="152.0" width="2" height="23.6"/>
<rect x="1054" y="152.5" width="2" height="22.3"/>
<rect x="1055" y="144.3" width="2" height="32.5"/>
<rect x="1056" y="163.0" width="2" height="16.6"/>
<rect x="1057" y="161.2" width="2" height="12.5"/>
<rect x="1058" y="161.6" width="2" height="13.3"/>
<rect x="1059" y="158.5" width="2" height="14.4"/>
<rect x="1060" y="153.4" width="2" height="21.6"/>
<rect x="1061" y="162.2" width="2" height="35.5"/>
<rect x="1062" y="161.8" width="2" height="15.4"/>
<rect x="1063" y="163.7" width="2" height="17.6"/>
<rect x="1064" y="155.7" width="2" height="23.5"/>
<rect x="1065" y="161.7" width="2" height="14.0"/>
<rect x="1066" y="162.1" width="2" height="14.0"/>
<rect x="1067" y="156.9" width="2" height="15.4"/>
<rect x="1068" y="158.9" width="2" height="19.7"/>
<rect x="1069" y="161.5" width="2" height="13.3"/>
<rect x="1070" y="163.9" width="2" height="15.0"/>
<rect x="1071" y="157.6" width="2" height="20.8"/>
<rect x="1072" y="149.6" width="2" height="25.2"/>
<rect x="1073" y="159.1" width="2" height="18.5"/>
<rect x="1074" y="161.8" width="2" height="17.9"/>
<rect x="1075" y="158.3" width="2" height="15.8"/>
<rect x="1076" y="159.7" width="2" height="16.5"/>
<rect x="1077" y="156.5" width="2" height="22.0"/>
<rect x="1078" y="145.2" width="2" height="29.4"/>
<rect x="1079" y="159.0" width="2" height="33.6"/>
<rect x="1080" y="156.4" width="2" height="16.7"/>
<rect x="1081" y="163.2" width="2" height="15.9"/>
<rect x="1082" y="162.3" width="2" height="10.0"/>
<rect x="1083" y="160.6" width="2" height="17.5"/>
<rect x="1084" y="156.2" width="2" height="16.0"/>
<rect x="1085" y="153.0" width="2" height="32.7"/>
<rect x="1086" y="161.0" width="2" height="14.5"/>
<rect x="1087" y="157.1" width="2" height="20.8"/>
<rect x="1088" y="156.5" width="2" height="22.8"/>
<rect x="1089" y="163.3" width="2" height="10.7"/>
<rect x="1090" y="157.4" width="2" height="20.8"/>
<rect x="1091" y="154.3" width="2" height="17.9"/>
<rect x="1092" y="159.8" width="2" height="13.2"/>
<rect x="1093" y="161.3" width="2" height="14.4"/>
<rect x="1094" y="164.1" width="2" height="14.6"/>
<rect x="1095" y="147.9" width="2" height="25.1"/>
<rect x="1096" y="152.6" width="2" height="19.5"/>
<rect x="1097" y="159.7" width="2" height="21.3"/>
<rect x="1098" y="161.0" width="2" height="14.9"/>
<rect x="1099" y="161.9" width="2" height="14.3"/>
<rect x="1100" y="153.3" width="2" height="28.2"/>
<rect x="1101" y="153.0" width="2" height="19.9"/>
<rect x="1102" y="163.0" width="2" height="13.7"/>
<rect x="1103" y="162.3" width="2" height="10.7"/>
<rect x="1104" y="160.0" width="2" height="14.8"/>
<rect x="1105" y="160.3" width="2" height="24.0"/>
<rect x="1106" y="161.3" width="2" height="15.0"/>
<rect x="1107" y="160.5" width="2" height="13.2"/>
<rect x="1108" y="164.5" width="2" height="9.2"/>
<rect x="1109" y="158.8" width="2" height="15.3"/>
<rect x="1110" y="164.9" width="2" height="6.3"/>
<rect x="1111" y="158.2" width="2" height="18.5"/>
<rect x="1112" y="161.2" width="2" height="10.2"/>
<rect x="1113" y="165.1" width="2" height="7.6"/>
<rect x="1114" y="166.2" width="2" height="6.3"/>
<rect x="1115" y="160.5" width="2" height="10.8"/>
<rect x="1116" y="165.2" width="2" height="8.8"/>
<rect x="1117" y="163.8" width="2" height="7.7"/>
<rect x="1118" y="164.3" width="2" height="10.5"/>
<rect x="1119" y="164.9" width="2" height="9.4"/>
<rect x="1120" y="165.9" width="2" height="6.8"/>
<rect x="1121" y="164.7" width="2" height="11.8"/>
<rect x="1122" y="164.4" width="2" height="8.5"/>
<rect x="1123" y="163.6" width="2" height="6.4"/>
<rect x="1124" y="161.3" width="2" height="9.8"/>
<rect x="1125" y="164.8" width="2" height="10.2"/>
<rect x="1126" y="160.0" width="2" height="12.8"/>
<rect x="1127" y="163.3" width="2" height="8.1"/>
<rect x="1128" y="165.2" width="2" height="6.6"/>
<rect x="1129" y="164.0" width="2" height="10.1"/>
<rect x="1130" y="164.1" width="2" height="6.6"/>
<rect x="1131" y="159.7" width="2" height="11.4"/>
<rect x="1132" y="160.1" width="2" height="28.9"/>
<rect x="1133" y="166.0" width="2" height="7.6"/>
<rect x="1134" y="163.6" width="2" height="7.6"/>
<rect x="1135" y="162.6" width="2" height="7.4"/>
<rect x="1136" y="160.6" width="2" height="10.8"/>
<rect x="1137" y="161.6" width="2" height="15.5"/>
<rect x="1138" y="161.9" width="2" height="15.2"/>
<rect x="1139" y="153.0" width="2" height="19.6"/>
<rect x="1140" y="160.1" width="2" height="13.7"/>
<rect x="1141" y="153.8" width="2" height="17.9"/>
<rect x="1142" y="155.1" width="2" height="20.1"/>
<rect x="1143" y="163.1" width="2" height="10.5"/>
<rect x="1144" y="163.4" width="2" height="10.2"/>
<rect x="1145" y="163.4" width="2" height="10.8"/>
<rect x="1146" y="163.4" width="2" height="12.1"/>
</g><g fill="#FFFF00">
<rect x="683" y="162.9" width="1" height="8.3"/>
<rect x="684" y="164.2" width="1" height="9.3"/>
<rect x="685" y="165.1" width="1" height="6.4"/>
<rect x="686" y="164.4" width="1" height="9.8"/>
<rect x="687" y="159.4" width="1" height="12.3"/>
<rect x="688" y="163.9" width="1" height="7.7"/>
<rect x="689" y="161.5" width="1" height="12.2"/>
<rect x="690" y="163.9" width="1" height="7.4"/>
<rect x="691" y="164.9" width="1" height="6.6"/>
<rect x="692" y="165.0" width="1" height="7.1"/>
<rect x="693" y="164.9" width="1" height="7.5"/>
<rect x="694" y="163.5" width="1" height="7.7"/>
<rect x="695" y="164.5" width="1" height="9.2"/>
<rect x="696" y="163.1" width="1" height="9.5"/>
<rect x="697" y="162.8" width="1" height="15.1"/>
<rect x="698" y="162.5" width="1" height="10.2"/>
<rect x="699" y="163.3" width="1" height="8.4"/>
<rect x="700" y="160.4" width="1" height="11.9"/>
<rect x="701" y="160.7" width="1" height="15.3"/>
<rect x="702" y="160.1" width="1" height="11.1"/>
<rect x="703" y="163.8" width="1" height="10.8"/>
<rect x="704" y="163.8" width="1" height="8.0"/>
<rect x="705" y="159.7" width="1" height="11.5"/>
<rect x="706" y="163.1" width="1" height="8.7"/>
<rect x="707" y="162.1" width="1" height="9.2"/>
<rect x="708" y="162.1" width="1" height="13.9"/>
<rect x="709" y="163.2" width="1" height="9.2"/>
<rect x="710" y="158.8" width="1" height="15.8"/>
<rect x="711" y="165.0" width="1" height="9.0"/>
<rect x="712" y="162.8" width="1" height="9.4"/>
<rect x="713" y="162.1" width="1" height="10.0"/>
<rect x="714" y="161.4" width="1" height="12.7"/>
<rect x="715" y="163.0" width="1" height="12.9"/>
<rect x="716" y="164.0" width="1" height="8.6"/>
<rect x="717" y="163.2" width="1" height="11.9"/>
<rect x="718" y="162.9" width="1" height="9.9"/>
<rect x="719" y="163.2" width="1" height="9.4"/>
<rect x="720" y="163.8" width="1" height="8.1"/>
<rect x="721" y="162.9" width="1" height="9.0"/>
<rect x="722" y="162.2" width="1" height="13.8"/>
<rect x="723" y="158.6" width="1" height="19.6"/>
<rect x="724" y="159.9" width="1" height="15.6"/>
<rect x="725" y="161.5" width="1" height="11.9"/>
<rect x="726" y="162.2" width="1" height="12.2"/>
<rect x="727" y="162.8" width="1" height="10.5"/>
<rect x="728" y="164.0" width="1" height="10.6"/>
<rect x="729" y="160.8" width="1" height="13.4"/>
<rect x="730" y="161.1" width="1" height="10.3"/>
<rect x="731" y="164.5" width="1" height="11.3"/>
<rect x="732" y="164.1" width="1" height="7.2"/>
<rect x="733" y="163.3" width="1" height="9.5"/>
<rect x="734" y="162.7" width="1" height="15.7"/>
<rect x="735" y="161.3" width="1" height="14.8"/>
<rect x="736" y="164.6" width="1" height="9.7"/>
<rect x="737" y="162.7" width="1" height="10.7"/>
<rect x="738" y="163.6" width="1" height="12.1"/>
<rect x="739" y="163.2" width="1" height="8.8"/>
<rect x="740" y="163.5" width="1" height="9.5"/>
<rect x="741" y="163.9" width="1" height="9.9"/>
<rect x="742" y="162.0" width="1" height="10.3"/>
<rect x="743" y="163.1" width="1" height="10.8"/>
<rect x="744" y="163.6" width="1" height="10.0"/>
<rect x="745" y="161.9" width="1" height="16.4"/>
<rect x="746" y="161.2" width="1" height="10.2"/>
<rect x="747" y="164.1" width="1" height="7.7"/>
<rect x="748" y="163.1" width="1" height="9.5"/>
<rect x="749" y="164.7" width="1" height="6.7"/>
<rect x="750" y="160.6" width="1" height="12.4"/>
<rect x="751" y="157.8" width="1" height="14.5"/>
<rect x="752" y="160.7" width="1" height="17.8"/>
<rect x="753" y="161.6" width="1" height="9.9"/>
<rect x="754" y="163.3" width="1" height="8.4"/>
<rect x="755" y="161.3" width="1" height="12.9"/>
<rect x="756" y="161.6" width="1" height="11.1"/>
<rect x="757" y="158.3" width="1" height="15.3"/>
<rect x="758" y="157.9" width="1" height="20.2"/>
<rect x="759" y="161.9" width="1" height="12.4"/>
<rect x="760" y="162.6" width="1" height="14.7"/>
<rect x="761" y="160.9" width="1" height="16.1"/>
<rect x="762" y="161.5" width="1" height="13.9"/>
<rect x="763" y="161.1" width="1" height="12.7"/>
<rect x="764" y="162.6" width="1" height="13.5"/>
<rect x="765" y="161.8" width="1" height="14.3"/>
<rect x="766" y="150.0" width="1" height="30.5"/>
<rect x="767" y="155.0" width="1" height="21.2"/>
<rect x="768" y="161.6" width="1" height="20.0"/>
<rect x="769" y="158.2" width="1" height="19.7"/>
<rect x="770" y="147.0" width="1" height="31.9"/>
<rect x="771" y="160.6" width="1" height="18.8"/>
<rect x="772" y="156.7" width="1" height="22.8"/>
<rect x="773" y="160.2" width="1" height="21.4"/>
<rect x="774" y="156.4" width="1" height="21.0"/>
<rect x="775" y="160.7" width="1" height="20.5"/>
<rect x="776" y="154.9" width="1" height="27.9"/>
<rect x="777" y="154.5" width="1" height="28.6"/>
<rect x="778" y="155.3" width="1" height="22.0"/>
<rect x="779" y="159.5" width="1" height="17.0"/>
<rect x="780" y="157.8" width="1" height="17.6"/>
<rect x="781" y="153.9" width="1" height="21.5"/>
<rect x="782" y="155.6" width="1" height="27.7"/>
<rect x="783" y="152.0" width="1" height="32.0"/>
<rect x="784" y="144.2" width="1" height="38.7"/>
<rect x="785" y="157.6" width="1" height="23.2"/>
<rect x="786" y="145.8" width="1" height="38.1"/>
<rect x="787" y="144.4" width="1" height="38.5"/>
<rect x="788" y="127.0" width="1" height="57.5"/>
<rect x="789" y="124.6" width="1" height="79.2"/>
<rect x="790" y="150.2" width="1" height="42.4"/>
<rect x="791" y="152.8" width="1" height="35.6"/>
<rect x="792" y="143.2" width="1" height="44.6"/>
<rect x="793" y="151.4" width="1" height="40.9"/>
<rect x="794" y="147.1" width="1" height="38.1"/>
<rect x="795" y="157.2" width="1" height="24.7"/>
<rect x="796" y="152.7" width="1" height="40.1"/>
<rect x="797" y="156.6" width="1" height="33.6"/>
<rect x="798" y="156.0" width="1" height="24.4"/>
<rect x="799" y="158.7" width="1" height="26.2"/>
<rect x="800" y="157.1" width="1" height="20.0"/>
<rect x="801" y="161.4" width="1" height="15.8"/>
<rect x="802" y="158.3" width="1" height="27.0"/>
<rect x="803" y="160.7" width="1" height="14.0"/>
<rect x="804" y="159.7" width="1" height="18.5"/>
<rect x="805" y="161.4" width="1" height="11.8"/>
<rect x="806" y="159.2" width="1" height="17.2"/>
<rect x="807" y="163.2" width="1" height="11.3"/>
<rect x="808" y="162.9" width="1" height="12.2"/>
<rect x="809" y="154.5" width="1" height="18.5"/>
<rect x="810" y="160.8" width="1" height="13.5"/>
<rect x="811" y="158.1" width="1" height="19.8"/>
<rect x="812" y="161.8" width="1" height="12.3"/>
<rect x="813" y="160.8" width="1" height="14.9"/>
<rect x="814" y="159.4" width="1" height="21.4"/>
<rect x="815" y="163.2" width="1" height="11.8"/>
<rect x="816" y="161.8" width="1" height="12.7"/>
<rect x="817" y="156.9" width="1" height="16.9"/>
<rect x="818" y="159.5" width="1" height="12.4"/>
<rect x="819" y="163.4" width="1" height="10.2"/>
<rect x="820" y="162.0" width="1" height="13.1"/>
<rect x="821" y="162.3" width="1" height="16.5"/>
<rect x="822" y="149.2" width="1" height="34.8"/>
<rect x="823" y="154.4" width="1" height="25.6"/>
<rect x="824" y="156.1" width="1" height="23.0"/>
<rect x="825" y="161.8" width="1" height="22.0"/>
<rect x="826" y="148.2" width="1" height="37.3"/>
<rect x="827" y="155.8" width="1" height="24.6"/>
<rect x="828" y="158.4" width="1" height="15.2"/>
<rect x="829" y="163.4" width="1" height="9.7"/>
<rect x="830" y="164.0" width="1" height="10.0"/>
<rect x="831" y="162.1" width="1" height="9.9"/>
<rect x="832" y="161.1" width="1" height="12.0"/>
<rect x="833" y="161.7" width="1" height="9.8"/>
<rect x="834" y="162.7" width="1" height="8.8"/>
<rect x="835" y="159.6" width="1" height="17.1"/>
<rect x="836" y="164.8" width="1" height="8.0"/>
<rect x="837" y="164.8" width="1" height="10.0"/>
<rect x="838" y="159.9" width="1" height="14.1"/>
<rect x="839" y="161.0" width="1" height="10.7"/>
<rect x="840" y="161.6" width="1" height="11.8"/>
<rect x="841" y="161.7" width="1" height="13.2"/>
<rect x="842" y="162.6" width="1" height="10.2"/>
<rect x="843" y="158.9" width="1" height="14.5"/>
<rect x="844" y="160.9" width="1" height="11.7"/>
<rect x="845" y="164.2" width="1" height="10.1"/>
<rect x="846" y="164.0" width="1" height="10.7"/>
<rect x="847" y="162.2" width="1" height="16.5"/>
<rect x="848" y="154.6" width="1" height="26.6"/>
<rect x="849" y="150.5" width="1" height="32.0"/>
<rect x="850" y="156.5" width="1" height="29.5"/>
<rect x="851" y="158.3" width="1" height="20.7"/>
<rect x="852" y="149.0" width="1" height="30.9"/>
<rect x="853" y="161.1" width="1" height="20.3"/>
<rect x="854" y="146.0" width="1" height="33.7"/>
<rect x="855" y="151.4" width="1" height="24.2"/>
<rect x="856" y="153.5" width="1" height="20.5"/>
<rect x="857" y="163.3" width="1" height="11.2"/>
<rect x="858" y="161.1" width="1" height="15.5"/>
<rect x="859" y="159.8" width="1" height="16.0"/>
<rect x="860" y="163.8" width="1" height="16.4"/>
<rect x="861" y="162.8" width="1" height="10.9"/>
<rect x="862" y="157.9" width="1" height="17.2"/>
<rect x="863" y="161.5" width="1" height="11.7"/>
<rect x="864" y="164.5" width="1" height="10.6"/>
<rect x="865" y="160.9" width="1" height="10.5"/>
<rect x="866" y="164.7" width="1" height="7.0"/>
<rect x="867" y="161.3" width="1" height="12.2"/>
<rect x="868" y="164.6" width="1" height="7.5"/>
<rect x="869" y="164.3" width="1" height="6.6"/>
<rect x="870" y="165.9" width="1" height="3.9"/>
<rect x="871" y="166.3" width="1" height="4.7"/>
<rect x="872" y="165.8" width="1" height="5.7"/>
<rect x="873" y="164.2" width="1" height="8.5"/>
<rect x="874" y="165.1" width="1" height="5.2"/>
<rect x="875" y="166.0" width="1" height="4.9"/>
<rect x="876" y="165.1" width="1" height="5.2"/>
<rect x="877" y="165.0" width="1" height="5.9"/>
<rect x="878" y="165.9" width="1" height="5.4"/>
<rect x="879" y="164.3" width="1" height="7.3"/>
<rect x="880" y="165.1" width="1" height="5.6"/>
<rect x="881" y="164.5" width="1" height="6.2"/>
<rect x="882" y="166.4" width="1" height="4.3"/>
<rect x="883" y="164.1" width="1" height="6.9"/>
<rect x="884" y="165.6" width="1" height="4.7"/>
<rect x="885" y="166.1" width="1" height="5.5"/>
<rect x="886" y="166.0" width="1" height="4.9"/>
<rect x="887" y="163.4" width="1" height="7.2"/>
<rect x="888" y="166.4" width="1" height="4.0"/>
<rect x="889" y="166.0" width="1" height="3.8"/>
<rect x="890" y="165.7" width="1" height="4.7"/>
<rect x="891" y="165.7" width="1" height="5.6"/>
<rect x="892" y="163.8" width="1" height="6.5"/>
<rect x="893" y="165.1" width="1" height="7.3"/>
<rect x="894" y="165.6" width="1" height="7.0"/>
<rect x="895" y="164.8" width="1" height="8.6"/>
<rect x="896" y="162.8" width="1" height="8.4"/>
<rect x="897" y="166.0" width="1" height="4.9"/>
<rect x="898" y="165.6" width="1" height="6.4"/>
<rect x="899" y="164.1" width="1" height="5.8"/>
<rect x="900" y="166.4" width="1" height="4.7"/>
<rect x="901" y="166.1" width="1" height="3.7"/>
<rect x="902" y="165.6" width="1" height="4.4"/>
<rect x="903" y="162.8" width="1" height="8.4"/>
<rect x="904" y="166.4" width="1" height="7.0"/>
<rect x="905" y="165.7" width="1" height="4.2"/>
<rect x="906" y="165.3" width="1" height="4.9"/>
<rect x="907" y="166.4" width="1" height="4.3"/>
<rect x="908" y="165.3" width="1" height="5.2"/>
<rect x="909" y="165.8" width="1" height="5.2"/>
<rect x="910" y="164.5" width="1" height="5.7"/>
<rect x="911" y="166.4" width="1" height="5.0"/>
<rect x="912" y="165.2" width="1" height="5.1"/>
<rect x="913" y="165.3" width="1" height="5.6"/>
<rect x="914" y="164.6" width="1" height="6.7"/>
<rect x="915" y="163.5" width="1" height="8.3"/>
<rect x="916" y="164.5" width="1" height="7.2"/>
<rect x="917" y="160.8" width="1" height="10.0"/>
<rect x="918" y="164.8" width="1" height="8.4"/>
<rect x="919" y="162.9" width="1" height="8.5"/>
<rect x="920" y="165.0" width="1" height="7.4"/>
<rect x="921" y="164.0" width="1" height="8.7"/>
<rect x="922" y="161.9" width="1" height="13.9"/>
<rect x="923" y="164.7" width="1" height="7.8"/>
<rect x="924" y="164.6" width="1" height="6.9"/>
<rect x="925" y="162.5" width="1" height="9.6"/>
<rect x="926" y="163.0" width="1" height="9.9"/>
<rect x="927" y="164.3" width="1" height="7.9"/>
<rect x="928" y="164.2" width="1" height="9.9"/>
<rect x="929" y="164.7" width="1" height="6.6"/>
<rect x="930" y="162.0" width="1" height="9.7"/>
<rect x="931" y="161.2" width="1" height="11.9"/>
<rect x="932" y="165.0" width="1" height="11.2"/>
<rect x="933" y="162.9" width="1" height="10.5"/>
<rect x="934" y="163.2" width="1" height="9.3"/>
<rect x="935" y="161.7" width="1" height="12.0"/>
<rect x="936" y="160.1" width="1" height="16.2"/>
<rect x="937" y="155.7" width="1" height="21.8"/>
<rect x="938" y="160.8" width="1" height="16.9"/>
<rect x="939" y="160.2" width="1" height="18.9"/>
<rect x="940" y="155.3" width="1" height="21.3"/>
<rect x="941" y="163.6" width="1" height="9.1"/>
<rect x="942" y="161.8" width="1" height="17.6"/>
<rect x="943" y="153.7" width="1" height="20.7"/>
<rect x="944" y="159.7" width="1" height="19.3"/>
<rect x="945" y="163.6" width="1" height="10.4"/>
<rect x="946" y="159.7" width="1" height="16.0"/>
<rect x="947" y="163.1" width="1" height="10.4"/>
<rect x="948" y="160.5" width="1" height="14.0"/>
<rect x="949" y="163.0" width="1" height="8.7"/>
<rect x="950" y="163.8" width="1" height="8.0"/>
<rect x="951" y="160.5" width="1" height="10.5"/>
<rect x="952" y="163.4" width="1" height="9.5"/>
<rect x="953" y="163.1" width="1" height="9.8"/>
<rect x="954" y="163.5" width="1" height="7.3"/>
<rect x="955" y="164.8" width="1" height="9.8"/>
<rect x="956" y="164.4" width="1" height="6.4"/>
<rect x="957" y="165.3" width="1" height="8.4"/>
<rect x="958" y="164.4" width="1" height="8.3"/>
<rect x="959" y="164.6" width="1" height="7.2"/>
<rect x="960" y="164.7" width="1" height="10.0"/>
<rect x="961" y="164.5" width="1" height="7.3"/>
<rect x="962" y="163.1" width="1" height="8.4"/>
<rect x="963" y="164.6" width="1" height="8.3"/>
<rect x="964" y="162.8" width="1" height="8.6"/>
<rect x="965" y="162.6" width="1" height="9.1"/>
<rect x="966" y="165.2" width="1" height="8.1"/>
<rect x="967" y="163.3" width="1" height="7.9"/>
<rect x="968" y="162.2" width="1" height="9.7"/>
<rect x="969" y="164.2" width="1" height="7.5"/>
<rect x="970" y="161.8" width="1" height="8.9"/>
<rect x="971" y="165.9" width="1" height="4.7"/>
<rect x="972" y="165.2" width="1" height="5.3"/>
<rect x="973" y="161.8" width="1" height="11.4"/>
<rect x="974" y="163.5" width="1" height="9.5"/>
<rect x="975" y="164.9" width="1" height="7.1"/>
<rect x="976" y="163.5" width="1" height="8.0"/>
<rect x="977" y="165.7" width="1" height="6.9"/>
<rect x="978" y="162.1" width="1" height="9.1"/>
<rect x="979" y="164.0" width="1" height="8.7"/>
<rect x="980" y="165.9" width="1" height="5.3"/>
<rect x="981" y="164.2" width="1" height="6.1"/>
<rect x="982" y="165.0" width="1" height="7.1"/>
<rect x="983" y="164.6" width="1" height="5.9"/>
<rect x="984" y="165.4" width="1" height="5.6"/>
<rect x="985" y="158.4" width="1" height="14.8"/>
<rect x="986" y="159.4" width="1" height="17.7"/>
<rect x="987" y="162.1" width="1" height="21.6"/>
<rect x="988" y="155.2" width="1" height="21.0"/>
<rect x="989" y="161.2" width="1" height="13.0"/>
<rect x="990" y="165.5" width="1" height="6.3"/>
<rect x="991" y="162.6" width="1" height="12.5"/>
<rect x="992" y="164.1" width="1" height="8.0"/>
<rect x="993" y="161.1" width="1" height="10.9"/>
<rect x="994" y="162.4" width="1" height="10.4"/>
<rect x="995" y="163.4" width="1" height="7.9"/>
<rect x="996" y="165.5" width="1" height="6.0"/>
<rect x="997" y="164.2" width="1" height="11.2"/>
<rect x="998" y="164.5" width="1" height="6.3"/>
<rect x="999" y="159.6" width="1" height="11.2"/>
<rect x="1000" y="163.0" width="1" height="9.8"/>
<rect x="1001" y="159.4" width="1" height="17.3"/>
<rect x="1002" y="160.4" width="1" height="18.5"/>
<rect x="1003" y="151.8" width="1" height="30.4"/>
<rect x="1004" y="155.7" width="1" height="18.9"/>
<rect x="1005" y="159.4" width="1" height="16.8"/>
<rect x="1006" y="160.8" width="1" height="16.1"/>
<rect x="1007" y="154.5" width="1" height="22.3"/>
<rect x="1008" y="158.9" width="1" height="13.7"/>
<rect x="1009" y="162.0" width="1" height="9.5"/>
<rect x="1010" y="165.0" width="1" height="6.1"/>
<rect x="1011" y="164.6" width="1" height="8.6"/>
<rect x="1012" y="165.2" width="1" height="5.6"/>
<rect x="1013" y="164.6" width="1" height="5.8"/>
<rect x="1014" y="160.7" width="1" height="14.8"/>
<rect x="1015" y="164.7" width="1" height="8.8"/>
<rect x="1016" y="163.1" width="1" height="9.3"/>
<rect x="1017" y="165.6" width="1" height="6.9"/>
<rect x="1018" y="165.0" width="1" height="5.3"/>
<rect x="1019" y="164.5" width="1" height="8.5"/>
<rect x="1020" y="162.6" width="1" height="9.2"/>
<rect x="1021" y="164.8" width="1" height="6.8"/>
<rect x="1022" y="165.9" width="1" height="5.2"/>
<rect x="1023" y="165.4" width="1" height="7.8"/>
<rect x="1024" y="165.9" width="1" height="7.1"/>
<rect x="1025" y="165.2" width="1" height="8.7"/>
<rect x="1026" y="164.6" width="1" height="9.2"/>
<rect x="1027" y="164.6" width="1" height="6.4"/>
<rect x="1028" y="165.4" width="1" height="6.1"/>
<rect x="1029" y="158.8" width="1" height="17.2"/>
<rect x="1030" y="151.5" width="1" height="31.0"/>
<rect x="1031" y="148.7" width="1" height="54.4"/>
<rect x="1032" y="132.4" width="1" height="83.9"/>
<rect x="1033" y="144.8" width="1" height="52.4"/>
<rect x="1034" y="142.3" width="1" height="38.1"/>
<rect x="1035" y="154.2" width="1" height="25.8"/>
<rect x="1036" y="146.0" width="1" height="30.7"/>
<rect x="1037" y="159.5" width="1" height="15.1"/>
<rect x="1038" y="161.8" width="1" height="19.7"/>
<rect x="1039" y="158.3" width="1" height="22.8"/>
<rect x="1040" y="161.5" width="1" height="19.3"/>
<rect x="1041" y="160.9" width="1" height="17.5"/>
<rect x="1042" y="160.1" width="1" height="13.7"/>
<rect x="1043" y="161.0" width="1" height="17.3"/>
<rect x="1044" y="157.6" width="1" height="19.9"/>
<rect x="1045" y="159.1" width="1" height="21.4"/>
<rect x="1046" y="162.1" width="1" height="12.4"/>
<rect x="1047" y="161.8" width="1" height="15.6"/>
<rect x="1048" y="159.3" width="1" height="21.9"/>
<rect x="1049" y="160.6" width="1" height="13.3"/>
<rect x="1050" y="162.5" width="1" height="15.9"/>
<rect x="1051" y="158.3" width="1" height="15.3"/>
<rect x="1052" y="160.8" width="1" height="12.0"/>
<rect x="1053" y="159.1" width="1" height="13.6"/>
<rect x="1054" y="159.2" width="1" height="19.3"/>
<rect x="1055" y="160.8" width="1" height="11.8"/>
<rect x="1056" y="162.4" width="1" height="14.3"/>
<rect x="1057" y="159.5" width="1" height="14.4"/>
<rect x="1058" y="163.4" width="1" height="11.6"/>
<rect x="1059" y="162.6" width="1" height="9.9"/>
<rect x="1060" y="159.5" width="1" height="15.0"/>
<rect x="1061" y="164.0" width="1" height="9.5"/>
<rect x="1062" y="163.3" width="1" height="10.0"/>
<rect x="1063" y="162.9" width="1" height="12.5"/>
<rect x="1064" y="163.1" width="1" height="8.5"/>
<rect x="1065" y="161.4" width="1" height="10.2"/>
<rect x="1066" y="165.4" width="1" height="10.8"/>
<rect x="1067" y="163.6" width="1" height="9.6"/>
<rect x="1068" y="164.2" width="1" height="11.0"/>
<rect x="1069" y="165.4" width="1" height="5.6"/>
<rect x="1070" y="161.1" width="1" height="15.8"/>
<rect x="1071" y="160.6" width="1" height="20.5"/>
<rect x="1072" y="163.6" width="1" height="9.1"/>
<rect x="1073" y="158.8" width="1" height="15.2"/>
<rect x="1074" y="162.1" width="1" height="14.1"/>
<rect x="1075" y="153.7" width="1" height="20.4"/>
<rect x="1076" y="158.5" width="1" height="14.8"/>
<rect x="1077" y="163.1" width="1" height="12.7"/>
<rect x="1078" y="162.9" width="1" height="12.6"/>
<rect x="1079" y="155.5" width="1" height="19.2"/>
<rect x="1080" y="162.9" width="1" height="13.5"/>
<rect x="1081" y="162.7" width="1" height="14.3"/>
<rect x="1082" y="163.6" width="1" height="11.7"/>
<rect x="1083" y="162.7" width="1" height="13.6"/>
<rect x="1084" y="161.4" width="1" height="12.6"/>
<rect x="1085" y="161.3" width="1" height="12.7"/>
<rect x="1086" y="157.1" width="1" height="17.1"/>
<rect x="1087" y="161.5" width="1" height="19.2"/>
<rect x="1088" y="147.1" width="1" height="28.8"/>
<rect x="1089" y="158.1" width="1" height="18.0"/>
<rect x="1090" y="161.6" width="1" height="13.4"/>
<rect x="1091" y="160.8" width="1" height="13.0"/>
<rect x="1092" y="160.2" width="1" height="18.0"/>
<rect x="1093" y="161.9" width="1" height="11.2"/>
<rect x="1094" y="162.2" width="1" height="13.0"/>
<rect x="1095" y="163.0" width="1" height="9.4"/>
<rect x="1096" y="162.7" width="1" height="12.0"/>
<rect x="1097" y="162.7" width="1" height="11.2"/>
<rect x="1098" y="163.3" width="1" height="9.2"/>
<rect x="1099" y="164.6" width="1" height="11.9"/>
<rect x="1100" y="158.8" width="1" height="12.8"/>
<rect x="1101" y="165.0" width="1" height="11.0"/>
<rect x="1102" y="164.6" width="1" height="7.7"/>
<rect x="1103" y="164.1" width="1" height="7.7"/>
<rect x="1104" y="163.8" width="1" height="9.2"/>
<rect x="1105" y="163.5" width="1" height="10.5"/>
<rect x="1106" y="164.2" width="1" height="11.1"/>
<rect x="1107" y="164.6" width="1" height="9.1"/>
<rect x="1108" y="164.9" width="1" height="7.9"/>
<rect x="1109" y="163.5" width="1" height="8.6"/>
<rect x="1110" y="165.3" width="1" height="7.6"/>
<rect x="1111" y="164.5" width="1" height="6.9"/>
<rect x="1112" y="163.8" width="1" height="8.6"/>
<rect x="1113" y="165.5" width="1" height="6.4"/>
<rect x="1114" y="165.2" width="1" height="5.5"/>
<rect x="1115" y="165.1" width="1" height="6.8"/>
<rect x="1116" y="162.2" width="1" height="8.7"/>
<rect x="1117" y="165.0" width="1" height="7.1"/>
<rect x="1118" y="165.8" width="1" height="4.9"/>
<rect x="1119" y="164.3" width="1" height="8.0"/>
<rect x="1120" y="163.9" width="1" height="9.2"/>
<rect x="1121" y="164.1" width="1" height="6.1"/>
<rect x="1122" y="165.1" width="1" height="5.1"/>
<rect x="1123" y="164.2" width="1" height="8.0"/>
<rect x="1124" y="165.9" width="1" height="5.6"/>
<rect x="1125" y="163.8" width="1" height="6.8"/>
<rect x="1126" y="163.7" width="1" height="9.1"/>
<rect x="1127" y="163.1" width="1" height="11.0"/>
<rect x="1128" y="166.0" width="1" height="5.8"/>
<rect x="1129" y="165.2" width="1" height="6.9"/>
<rect x="1130" y="165.9" width="1" height="7.6"/>
<rect x="1131" y="163.9" width="1" height="8.3"/>
<rect x="1132" y="164.4" width="1" height="7.2"/>
<rect x="1133" y="163.0" width="1" height="8.8"/>
<rect x="1134" y="164.5" width="1" height="9.0"/>
<rect x="1135" y="165.3" width="1" height="6.7"/>
<rect x="1136" y="162.3" width="1" height="11.3"/>
<rect x="1137" y="159.6" width="1" height="15.5"/>
<rect x="1138" y="158.3" width="1" height="14.9"/>
<rect x="1139" y="154.4" width="1" height="21.0"/>
<rect x="1140" y="132.0" width="1" height="59.0"/>
<rect x="1141" y="161.5" width="1" height="14.0"/>
<rect x="1142" y="163.3" width="1" height="11.8"/>
<rect x="1143" y="158.9" width="1" height="17.7"/>
<rect x="1144" y="163.2" width="1" height="11.2"/>
<rect x="1145" y="164.8" width="1" height="6.9"/>
<rect x="1146" y="161.0" width="1" height="12.5"/>
<rect x="1147" y="161.4" width="1" height="11.7"/>
</g>
<rect x="665.5" y="65.5" width="501" height="253" fill="none" stroke="#000" stroke-width="1"/>
<rect x="707" y="318" width="1" height="9" fill="#000"/>
<text x="706.7" y="348" font-size="13.8" text-anchor="middle" textLength="28" lengthAdjust="spacingAndGlyphs">2005</text>
<rect x="814" y="318" width="1" height="9" fill="#000"/>
<text x="813.7" y="348" font-size="13.8" text-anchor="middle" textLength="28" lengthAdjust="spacingAndGlyphs">2010</text>
<rect x="920" y="318" width="1" height="9" fill="#000"/>
<text x="919.7" y="348" font-size="13.8" text-anchor="middle" textLength="28" lengthAdjust="spacingAndGlyphs">2015</text>
<rect x="1027" y="318" width="1" height="9" fill="#000"/>
<text x="1026.7" y="348" font-size="13.8" text-anchor="middle" textLength="28" lengthAdjust="spacingAndGlyphs">2020</text>
<rect x="1134" y="318" width="1" height="9" fill="#000"/>
<text x="1133.7" y="348" font-size="13.8" text-anchor="middle" textLength="28" lengthAdjust="spacingAndGlyphs">2025</text>
<rect x="657" y="284" width="9" height="1" fill="#000"/>
<text x="647" y="284.5" font-size="13.8" text-anchor="middle" textLength="22" lengthAdjust="spacingAndGlyphs" transform="rotate(-90 647 284.5)">-0.3</text>
<rect x="657" y="245" width="9" height="1" fill="#000"/>
<text x="647" y="245.5" font-size="13.8" text-anchor="middle" textLength="22" lengthAdjust="spacingAndGlyphs" transform="rotate(-90 647 245.5)">-0.2</text>
<rect x="657" y="206" width="9" height="1" fill="#000"/>
<text x="647" y="206.5" font-size="13.8" text-anchor="middle" textLength="22" lengthAdjust="spacingAndGlyphs" transform="rotate(-90 647 206.5)">-0.1</text>
<rect x="657" y="168" width="9" height="1" fill="#000"/>
<text x="647" y="168.5" font-size="13.8" text-anchor="middle" textLength="18" lengthAdjust="spacingAndGlyphs" transform="rotate(-90 647 168.5)">0.0</text>
<rect x="657" y="129" width="9" height="1" fill="#000"/>
<text x="647" y="129.5" font-size="13.8" text-anchor="middle" textLength="18" lengthAdjust="spacingAndGlyphs" transform="rotate(-90 647 129.5)">0.1</text>
<rect x="657" y="90" width="9" height="1" fill="#000"/>
<text x="647" y="90.5" font-size="13.8" text-anchor="middle" textLength="18" lengthAdjust="spacingAndGlyphs" transform="rotate(-90 647 90.5)">0.2</text>
<rect x="1002.5" y="65.5" width="164" height="48" fill="#fff" stroke="#000"/>
<rect x="1014" y="80" width="25" height="2" fill="#0000FF"/>
<rect x="1014" y="97" width="25" height="1" fill="#FFFF00"/>
<text x="1049.8" y="86.9" font-size="13.8" text-anchor="start" textLength="109.1" lengthAdjust="spacingAndGlyphs">OXSQ stock return</text>
<text x="1049.8" y="102.8" font-size="13.8" text-anchor="start" textLength="110.3" lengthAdjust="spacingAndGlyphs">GSPC stock return</text>
<text x="314.85" y="440" font-size="16" text-anchor="middle" textLength="354.3" lengthAdjust="spacingAndGlyphs" font-weight="bold">OXSQ versus S&amp;P500 stock return distribution</text>
<rect x="66" y="709" width="500" height="1" fill="#BEBEBE"/>
<polyline points="80.0,708.0 279.5,708.0 292.5,707.8 308.8,707.8 320.2,706.2 326.7,704.6 333.2,703.3 338.0,700.0 342.9,694.1 346.2,686.0 349.4,674.6 352.0,661.6 354.3,645.4 356.6,625.9 358.5,603.1 360.8,586.8 363.4,582.0 365.7,588.5 367.3,603.1 369.6,625.9 372.2,648.6 375.4,663.3 377.7,674.6 380.3,686.0 383.6,694.1 388.5,700.0 395.0,704.6 403.1,707.2 416.1,708.1 435.6,707.8 443.7,708.0 553.0,708.0" fill="none" stroke="#228B22" stroke-width="2"/>
<polyline points="320.0,708.5 328.3,708.5 336.4,705.5 342.9,702.3 347.8,695.8 351.1,684.4 354.3,668.1 356.6,645.4 358.5,616.1 360.2,583.6 361.5,541.3 362.4,502.3 363.4,479.5 364.7,502.3 365.7,541.3 367.3,590.1 368.9,622.6 371.2,648.6 373.8,671.4 376.4,690.9 379.7,702.3 385.2,707.2 391.7,708.5 406.0,708.5" fill="none" stroke="#FFA500" stroke-width="1"/>
<path d="M290 708.5H320M406 708.5H434" fill="none" stroke="#FFA500" stroke-width="1" stroke-dasharray="3 4"/>
<rect x="65.5" y="465.5" width="501" height="253" fill="none" stroke="#000" stroke-width="1"/>
<rect x="133" y="718" width="1" height="9" fill="#000"/>
<text x="133.3" y="748" font-size="13.8" text-anchor="middle" textLength="22" lengthAdjust="spacingAndGlyphs">-0.3</text>
<rect x="210" y="718" width="1" height="9" fill="#000"/>
<text x="210.3" y="748" font-size="13.8" text-anchor="middle" textLength="22" lengthAdjust="spacingAndGlyphs">-0.2</text>
<rect x="286" y="718" width="1" height="9" fill="#000"/>
<text x="286.3" y="748" font-size="13.8" text-anchor="middle" textLength="22" lengthAdjust="spacingAndGlyphs">-0.1</text>
<rect x="363" y="718" width="1" height="9" fill="#000"/>
<text x="363.3" y="748" font-size="13.8" text-anchor="middle" textLength="18" lengthAdjust="spacingAndGlyphs">0.0</text>
<rect x="439" y="718" width="1" height="9" fill="#000"/>
<text x="439.3" y="748" font-size="13.8" text-anchor="middle" textLength="18" lengthAdjust="spacingAndGlyphs">0.1</text>
<rect x="516" y="718" width="1" height="9" fill="#000"/>
<text x="516.3" y="748" font-size="13.8" text-anchor="middle" textLength="18" lengthAdjust="spacingAndGlyphs">0.2</text>
<rect x="57" y="709" width="9" height="1" fill="#000"/>
<text x="47" y="709.5" font-size="13.8" text-anchor="middle" textLength="7" lengthAdjust="spacingAndGlyphs" transform="rotate(-90 47 709.5)">0</text>
<rect x="57" y="672" width="9" height="1" fill="#000"/>
<text x="47" y="672.5" font-size="13.8" text-anchor="middle" textLength="14" lengthAdjust="spacingAndGlyphs" transform="rotate(-90 47 672.5)">10</text>
<rect x="57" y="634" width="9" height="1" fill="#000"/>
<text x="47" y="634.5" font-size="13.8" text-anchor="middle" textLength="14" lengthAdjust="spacingAndGlyphs" transform="rotate(-90 47 634.5)">20</text>
<rect x="57" y="597" width="9" height="1" fill="#000"/>
<text x="47" y="597.5" font-size="13.8" text-anchor="middle" textLength="14" lengthAdjust="spacingAndGlyphs" transform="rotate(-90 47 597.5)">30</text>
<rect x="57" y="559" width="9" height="1" fill="#000"/>
<text x="47" y="559.5" font-size="13.8" text-anchor="middle" textLength="14" lengthAdjust="spacingAndGlyphs" transform="rotate(-90 47 559.5)">40</text>
<rect x="57" y="522" width="9" height="1" fill="#000"/>
<text x="47" y="522.5" font-size="13.8" text-anchor="middle" textLength="14" lengthAdjust="spacingAndGlyphs" transform="rotate(-90 47 522.5)">50</text>
<rect x="57" y="484" width="9" height="1" fill="#000"/>
<text x="47" y="484.5" font-size="13.8" text-anchor="middle" textLength="14" lengthAdjust="spacingAndGlyphs" transform="rotate(-90 47 484.5)">60</text>
<rect x="65.5" y="465.5" width="195" height="48" fill="#fff" stroke="#000"/>
<rect x="77" y="480" width="25" height="2" fill="#228B22"/>
<rect x="77" y="497" width="25" height="1" fill="#FFA500"/>
<text x="112.8" y="487.0" font-size="13.8" text-anchor="start" textLength="139.9" lengthAdjust="spacingAndGlyphs">OXSQ return distribution</text>
<text x="112.8" y="502.8" font-size="13.8" text-anchor="start" textLength="141.1" lengthAdjust="spacingAndGlyphs">GSPC return distribution</text>
<text x="914.3" y="440" font-size="16" text-anchor="middle" textLength="389.3" lengthAdjust="spacingAndGlyphs" font-weight="bold">OXSQ versus S&amp;P500 return frequency distribution</text>
<clipPath id="c4"><rect x="665" y="465" width="502" height="253"/></clipPath><g clip-path="url(#c4)" stroke="#000" stroke-width="1">
<rect x="684" y="716" width="6" height="1" fill="#000" stroke="none"/>
<rect x="689" y="716" width="6" height="1" fill="#000" stroke="none"/>
<rect x="699" y="716" width="6" height="1" fill="#000" stroke="none"/>
<rect x="704" y="716" width="7" height="1" fill="#000" stroke="none"/>
<rect x="715" y="716" width="6" height="1" fill="#000" stroke="none"/>
<rect x="720" y="716" width="6" height="1" fill="#000" stroke="none"/>
<rect x="730" y="716" width="7" height="1" fill="#000" stroke="none"/>
<rect x="736" y="716" width="6" height="1" fill="#000" stroke="none"/>
<rect x="746" y="716" width="6" height="1" fill="#000" stroke="none"/>
<rect x="751" y="716" width="7" height="1" fill="#000" stroke="none"/>
<rect x="762" y="716" width="6" height="1" fill="#000" stroke="none"/>
<rect x="767" y="716" width="6" height="1" fill="#000" stroke="none"/>
<rect x="777" y="716" width="7" height="1" fill="#000" stroke="none"/>
<rect x="783" y="716" width="6" height="1" fill="#000" stroke="none"/>
<rect x="793" y="716" width="6" height="1" fill="#000" stroke="none"/>
<rect x="798" y="716" width="6" height="1" fill="#000" stroke="none"/>
<rect x="809.5" y="715.5" width="5" height="1" fill="#0000FF"/>
<rect x="814" y="716" width="6" height="1" fill="#000" stroke="none"/>
<rect x="824" y="716" width="6" height="1" fill="#000" stroke="none"/>
<rect x="829" y="716" width="7" height="1" fill="#000" stroke="none"/>
<rect x="840.5" y="715.5" width="5" height="1" fill="#0000FF"/>
<rect x="845" y="716" width="6" height="1" fill="#000" stroke="none"/>
<rect x="856.5" y="715.5" width="5" height="1" fill="#0000FF"/>
<rect x="861.5" y="715.5" width="5" height="1" fill="#FFFF00"/>
<rect x="871.5" y="715.5" width="5" height="1" fill="#0000FF"/>
<rect x="876" y="716" width="7" height="1" fill="#000" stroke="none"/>
<rect x="887.5" y="715.5" width="5" height="1" fill="#0000FF"/>
<rect x="892.5" y="715.5" width="5" height="1" fill="#FFFF00"/>
<rect x="902.5" y="714.5" width="6" height="2" fill="#0000FF"/>
<rect x="908.5" y="715.5" width="5" height="1" fill="#FFFF00"/>
<rect x="918.5" y="709.5" width="5" height="7" fill="#0000FF"/>
<rect x="923.5" y="714.5" width="6" height="2" fill="#FFFF00"/>
<rect x="934.5" y="693.5" width="5" height="23" fill="#0000FF"/>
<rect x="939.5" y="704.5" width="5" height="12" fill="#FFFF00"/>
<rect x="949.5" y="563.5" width="6" height="153" fill="#0000FF"/>
<rect x="955.5" y="573.5" width="5" height="143" fill="#FFFF00"/>
<rect x="965.5" y="525.5" width="5" height="191" fill="#0000FF"/>
<rect x="970.5" y="407.5" width="5" height="309" fill="#FFFF00"/>
<rect x="981.5" y="682.5" width="5" height="34" fill="#0000FF"/>
<rect x="986.5" y="704.5" width="5" height="12" fill="#FFFF00"/>
<rect x="996.5" y="708.5" width="5" height="8" fill="#0000FF"/>
<rect x="1001.5" y="714.5" width="6" height="2" fill="#FFFF00"/>
<rect x="1012.5" y="714.5" width="5" height="2" fill="#0000FF"/>
<rect x="1017.5" y="715.5" width="5" height="1" fill="#FFFF00"/>
<rect x="1028.5" y="715.5" width="5" height="1" fill="#0000FF"/>
<rect x="1033.5" y="715.5" width="5" height="1" fill="#FFFF00"/>
<rect x="1043.5" y="715.5" width="5" height="1" fill="#0000FF"/>
<rect x="1048" y="716" width="7" height="1" fill="#000" stroke="none"/>
<rect x="1059.5" y="715.5" width="5" height="1" fill="#0000FF"/>
<rect x="1064" y="716" width="6" height="1" fill="#000" stroke="none"/>
<rect x="1074.5" y="715.5" width="6" height="1" fill="#0000FF"/>
<rect x="1080" y="716" width="6" height="1" fill="#000" stroke="none"/>
<rect x="1090" y="716" width="6" height="1" fill="#000" stroke="none"/>
<rect x="1095" y="716" width="7" height="1" fill="#000" stroke="none"/>
<rect x="1106" y="716" width="6" height="1" fill="#000" stroke="none"/>
<rect x="1111" y="716" width="6" height="1" fill="#000" stroke="none"/>
<rect x="1121" y="716" width="7" height="1" fill="#000" stroke="none"/>
<rect x="1127" y="716" width="6" height="1" fill="#000" stroke="none"/>
<rect x="1137" y="716" width="6" height="1" fill="#000" stroke="none"/>
<rect x="1142" y="716" width="6" height="1" fill="#000" stroke="none"/>
</g>
<rect x="665.5" y="465.5" width="501" height="253" fill="none" stroke="#000" stroke-width="1"/>
<text x="689.5" y="748" font-size="13.8" text-anchor="middle" textLength="84" lengthAdjust="spacingAndGlyphs">[-0.365,-0.345)</text>
<text x="798.4" y="748" font-size="13.8" text-anchor="middle" textLength="84" lengthAdjust="spacingAndGlyphs">[-0.223,-0.203)</text>
<text x="908.35" y="748" font-size="13.8" text-anchor="middle" textLength="98" lengthAdjust="spacingAndGlyphs">[-0.0821,-0.0619)</text>
<text x="1017.35" y="748" font-size="13.8" text-anchor="middle" textLength="90" lengthAdjust="spacingAndGlyphs">[0.0592,0.0794)</text>
<text x="1110.75" y="748" font-size="13.8" text-anchor="middle" textLength="69" lengthAdjust="spacingAndGlyphs">[0.18,0.201)</text>
<text x="914.3" y="779.6" font-size="13.8" text-anchor="middle" textLength="33" lengthAdjust="spacingAndGlyphs">return</text>
<text x="615" y="592.7" font-size="13.8" text-anchor="middle" textLength="56.8" lengthAdjust="spacingAndGlyphs" transform="rotate(-90 615 592.7)">frequency</text>
<rect x="657" y="716" width="9" height="1" fill="#000"/>
<text x="647" y="716.5" font-size="13.8" text-anchor="middle" textLength="7" lengthAdjust="spacingAndGlyphs" transform="rotate(-90 647 716.5)">0</text>
<rect x="657" y="677" width="9" height="1" fill="#000"/>
<text x="647" y="677.5" font-size="13.8" text-anchor="middle" textLength="21" lengthAdjust="spacingAndGlyphs" transform="rotate(-90 647 677.5)">500</text>
<rect x="657" y="638" width="9" height="1" fill="#000"/>
<text x="647" y="638.5" font-size="13.8" text-anchor="middle" textLength="28" lengthAdjust="spacingAndGlyphs" transform="rotate(-90 647 638.5)">1000</text>
<rect x="657" y="600" width="9" height="1" fill="#000"/>
<rect x="657" y="561" width="9" height="1" fill="#000"/>
<text x="647" y="561.5" font-size="13.8" text-anchor="middle" textLength="28" lengthAdjust="spacingAndGlyphs" transform="rotate(-90 647 561.5)">2000</text>
<rect x="657" y="523" width="9" height="1" fill="#000"/>
<rect x="657" y="484" width="9" height="1" fill="#000"/>
<text x="647" y="484.5" font-size="13.8" text-anchor="middle" textLength="28" lengthAdjust="spacingAndGlyphs" transform="rotate(-90 647 484.5)">3000</text>
<rect x="993.5" y="465.5" width="173" height="48" fill="#fff" stroke="#000"/>
<rect x="1005.5" y="477.5" width="9" height="8" fill="#0000FF" stroke="#000"/>
<rect x="1005.5" y="493.5" width="9" height="8" fill="#FFFF00" stroke="#000"/>
<text x="1025.7" y="487.0" font-size="13.8" text-anchor="start" textLength="133.5" lengthAdjust="spacingAndGlyphs">OXSQ return frequency</text>
<text x="1025.7" y="502.8" font-size="13.8" text-anchor="start" textLength="134.5" lengthAdjust="spacingAndGlyphs">GSPC return frequency</text>
</svg>
</body></html>
